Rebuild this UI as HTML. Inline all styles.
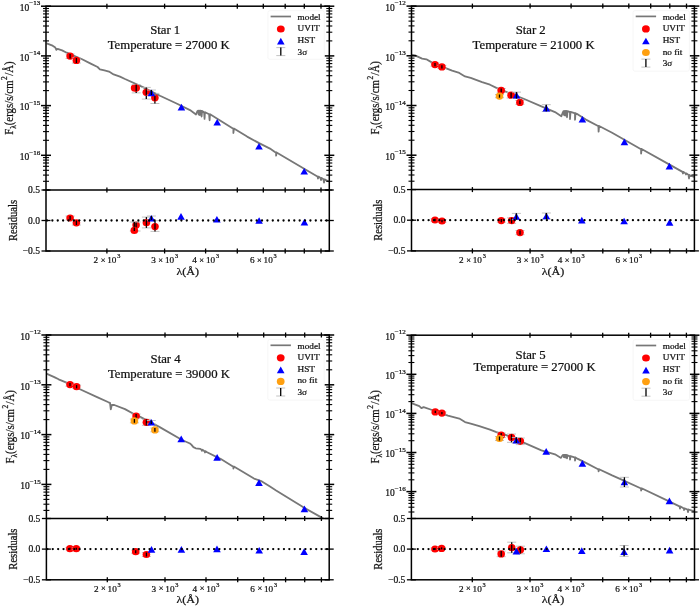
<!DOCTYPE html>
<html><head><meta charset="utf-8"><style>
html,body{margin:0;padding:0;background:#fff;width:700px;height:606px;overflow:hidden}
svg{display:block;will-change:transform;filter:blur(0.3px)}
text{font-family:"Liberation Serif", serif;fill:#111;stroke:#111;stroke-width:0.22px}
</style></head><body>
<svg width="700" height="606" viewBox="0 0 700 606">
<rect width="700" height="606" fill="#fff"/>
<polyline fill="none" stroke="#777" stroke-width="1.8" stroke-linejoin="round" points="46.5,43.5 47.3,43.6 51.9,45.3 55.3,47.6 56.4,49.9 57.6,48.9 62.1,50.4 66.7,52.7 81.6,59.0 90.7,63.6 97.6,67.0 99.9,69.3 104.4,70.4 109.0,71.6 113.6,74.4 120.0,76.6 125.0,79.0 142.9,87.1 160.0,95.7 177.1,103.7 190.0,110.1 196.0,114.5 197.2,111.5 198.1,110.6 198.2,110.6 198.6,114.5 199.1,110.6 199.3,110.7 199.8,115.2 200.3,110.7 201.1,110.9 201.4,110.8 201.6,116.5 202.1,110.9 204.1,112.2 204.6,118.9 204.9,112.3 205.1,112.2 209.1,114.3 209.6,120.3 210.0,114.5 210.1,114.3 212.9,116.0 220.9,121.1 232.9,128.6 233.4,128.6 233.4,133.0 233.9,128.6 247.1,136.6 258.6,142.9 270.0,148.6 275.6,152.5 276.1,152.5 276.1,155.7 276.6,152.5 302.9,168.0 315.7,175.5 317.5,176.6 318.0,178.5 318.5,176.6 320.5,177.9 321.0,180.0 321.5,177.9 323.5,179.3 324.0,182.5 324.5,179.3 326.4,180.4 328.6,181.4"/>
<rect x="46.0" y="6.2" width="283.3" height="244.8" fill="none" stroke="#000" stroke-width="1.5"/>
<line x1="46.0" y1="190.0" x2="329.3" y2="190.0" stroke="#000" stroke-width="1.5"/>
<line x1="106.9" y1="3.7" x2="106.9" y2="8.7" stroke="#000" stroke-width="1.3"/>
<line x1="106.9" y1="187.5" x2="106.9" y2="192.5" stroke="#000" stroke-width="1.3"/>
<line x1="106.9" y1="248.5" x2="106.9" y2="253.5" stroke="#000" stroke-width="1.3"/>
<line x1="164.6" y1="3.7" x2="164.6" y2="8.7" stroke="#000" stroke-width="1.3"/>
<line x1="164.6" y1="187.5" x2="164.6" y2="192.5" stroke="#000" stroke-width="1.3"/>
<line x1="164.6" y1="248.5" x2="164.6" y2="253.5" stroke="#000" stroke-width="1.3"/>
<line x1="205.6" y1="3.7" x2="205.6" y2="8.7" stroke="#000" stroke-width="1.3"/>
<line x1="205.6" y1="187.5" x2="205.6" y2="192.5" stroke="#000" stroke-width="1.3"/>
<line x1="205.6" y1="248.5" x2="205.6" y2="253.5" stroke="#000" stroke-width="1.3"/>
<line x1="237.3" y1="3.7" x2="237.3" y2="8.7" stroke="#000" stroke-width="1.3"/>
<line x1="237.3" y1="187.5" x2="237.3" y2="192.5" stroke="#000" stroke-width="1.3"/>
<line x1="237.3" y1="248.5" x2="237.3" y2="253.5" stroke="#000" stroke-width="1.3"/>
<line x1="263.3" y1="3.7" x2="263.3" y2="8.7" stroke="#000" stroke-width="1.3"/>
<line x1="263.3" y1="187.5" x2="263.3" y2="192.5" stroke="#000" stroke-width="1.3"/>
<line x1="263.3" y1="248.5" x2="263.3" y2="253.5" stroke="#000" stroke-width="1.3"/>
<line x1="285.2" y1="3.7" x2="285.2" y2="8.7" stroke="#000" stroke-width="1.3"/>
<line x1="285.2" y1="187.5" x2="285.2" y2="192.5" stroke="#000" stroke-width="1.3"/>
<line x1="285.2" y1="248.5" x2="285.2" y2="253.5" stroke="#000" stroke-width="1.3"/>
<line x1="304.3" y1="3.7" x2="304.3" y2="8.7" stroke="#000" stroke-width="1.3"/>
<line x1="304.3" y1="187.5" x2="304.3" y2="192.5" stroke="#000" stroke-width="1.3"/>
<line x1="304.3" y1="248.5" x2="304.3" y2="253.5" stroke="#000" stroke-width="1.3"/>
<line x1="321.0" y1="3.7" x2="321.0" y2="8.7" stroke="#000" stroke-width="1.3"/>
<line x1="321.0" y1="187.5" x2="321.0" y2="192.5" stroke="#000" stroke-width="1.3"/>
<line x1="321.0" y1="248.5" x2="321.0" y2="253.5" stroke="#000" stroke-width="1.3"/>
<text x="93.5" y="263.2" font-size="9.2">2</text>
<text x="103.0" y="262.6" font-size="8.4" text-anchor="middle">×</text>
<text x="107.2" y="263.2" font-size="9.2">10</text>
<text x="117.2" y="258.4" font-size="6.3">3</text>
<text x="151.2" y="263.2" font-size="9.2">3</text>
<text x="160.7" y="262.6" font-size="8.4" text-anchor="middle">×</text>
<text x="164.9" y="263.2" font-size="9.2">10</text>
<text x="174.9" y="258.4" font-size="6.3">3</text>
<text x="192.2" y="263.2" font-size="9.2">4</text>
<text x="201.7" y="262.6" font-size="8.4" text-anchor="middle">×</text>
<text x="205.9" y="263.2" font-size="9.2">10</text>
<text x="215.9" y="258.4" font-size="6.3">3</text>
<text x="249.9" y="263.2" font-size="9.2">6</text>
<text x="259.4" y="262.6" font-size="8.4" text-anchor="middle">×</text>
<text x="263.6" y="263.2" font-size="9.2">10</text>
<text x="273.6" y="258.4" font-size="6.3">3</text>
<line x1="41.0" y1="6.2" x2="51.0" y2="6.2" stroke="#000" stroke-width="1.5"/>
<line x1="324.3" y1="6.2" x2="334.3" y2="6.2" stroke="#000" stroke-width="1.5"/>
<text x="29.3" y="10.9" font-size="9.5" text-anchor="end">10</text>
<text transform="translate(40.3,5.4) scale(1.1,1)" font-size="6.4" text-anchor="end">−13</text>
<line x1="43.0" y1="40.9" x2="49.0" y2="40.9" stroke="#000" stroke-width="1.1"/>
<line x1="326.3" y1="40.9" x2="332.3" y2="40.9" stroke="#000" stroke-width="1.1"/>
<line x1="43.0" y1="32.2" x2="49.0" y2="32.2" stroke="#000" stroke-width="1.1"/>
<line x1="326.3" y1="32.2" x2="332.3" y2="32.2" stroke="#000" stroke-width="1.1"/>
<line x1="43.0" y1="26.0" x2="49.0" y2="26.0" stroke="#000" stroke-width="1.1"/>
<line x1="326.3" y1="26.0" x2="332.3" y2="26.0" stroke="#000" stroke-width="1.1"/>
<line x1="43.0" y1="21.2" x2="49.0" y2="21.2" stroke="#000" stroke-width="1.1"/>
<line x1="326.3" y1="21.2" x2="332.3" y2="21.2" stroke="#000" stroke-width="1.1"/>
<line x1="43.0" y1="17.2" x2="49.0" y2="17.2" stroke="#000" stroke-width="1.1"/>
<line x1="326.3" y1="17.2" x2="332.3" y2="17.2" stroke="#000" stroke-width="1.1"/>
<line x1="43.0" y1="13.9" x2="49.0" y2="13.9" stroke="#000" stroke-width="1.1"/>
<line x1="326.3" y1="13.9" x2="332.3" y2="13.9" stroke="#000" stroke-width="1.1"/>
<line x1="43.0" y1="11.0" x2="49.0" y2="11.0" stroke="#000" stroke-width="1.1"/>
<line x1="326.3" y1="11.0" x2="332.3" y2="11.0" stroke="#000" stroke-width="1.1"/>
<line x1="43.0" y1="8.5" x2="49.0" y2="8.5" stroke="#000" stroke-width="1.1"/>
<line x1="326.3" y1="8.5" x2="332.3" y2="8.5" stroke="#000" stroke-width="1.1"/>
<line x1="41.0" y1="55.9" x2="51.0" y2="55.9" stroke="#000" stroke-width="1.5"/>
<line x1="324.3" y1="55.9" x2="334.3" y2="55.9" stroke="#000" stroke-width="1.5"/>
<text x="29.3" y="60.6" font-size="9.5" text-anchor="end">10</text>
<text transform="translate(40.3,55.1) scale(1.1,1)" font-size="6.4" text-anchor="end">−14</text>
<line x1="43.0" y1="90.6" x2="49.0" y2="90.6" stroke="#000" stroke-width="1.1"/>
<line x1="326.3" y1="90.6" x2="332.3" y2="90.6" stroke="#000" stroke-width="1.1"/>
<line x1="43.0" y1="81.9" x2="49.0" y2="81.9" stroke="#000" stroke-width="1.1"/>
<line x1="326.3" y1="81.9" x2="332.3" y2="81.9" stroke="#000" stroke-width="1.1"/>
<line x1="43.0" y1="75.7" x2="49.0" y2="75.7" stroke="#000" stroke-width="1.1"/>
<line x1="326.3" y1="75.7" x2="332.3" y2="75.7" stroke="#000" stroke-width="1.1"/>
<line x1="43.0" y1="70.9" x2="49.0" y2="70.9" stroke="#000" stroke-width="1.1"/>
<line x1="326.3" y1="70.9" x2="332.3" y2="70.9" stroke="#000" stroke-width="1.1"/>
<line x1="43.0" y1="66.9" x2="49.0" y2="66.9" stroke="#000" stroke-width="1.1"/>
<line x1="326.3" y1="66.9" x2="332.3" y2="66.9" stroke="#000" stroke-width="1.1"/>
<line x1="43.0" y1="63.6" x2="49.0" y2="63.6" stroke="#000" stroke-width="1.1"/>
<line x1="326.3" y1="63.6" x2="332.3" y2="63.6" stroke="#000" stroke-width="1.1"/>
<line x1="43.0" y1="60.7" x2="49.0" y2="60.7" stroke="#000" stroke-width="1.1"/>
<line x1="326.3" y1="60.7" x2="332.3" y2="60.7" stroke="#000" stroke-width="1.1"/>
<line x1="43.0" y1="58.2" x2="49.0" y2="58.2" stroke="#000" stroke-width="1.1"/>
<line x1="326.3" y1="58.2" x2="332.3" y2="58.2" stroke="#000" stroke-width="1.1"/>
<line x1="41.0" y1="105.6" x2="51.0" y2="105.6" stroke="#000" stroke-width="1.5"/>
<line x1="324.3" y1="105.6" x2="334.3" y2="105.6" stroke="#000" stroke-width="1.5"/>
<text x="29.3" y="110.3" font-size="9.5" text-anchor="end">10</text>
<text transform="translate(40.3,104.8) scale(1.1,1)" font-size="6.4" text-anchor="end">−15</text>
<line x1="43.0" y1="140.3" x2="49.0" y2="140.3" stroke="#000" stroke-width="1.1"/>
<line x1="326.3" y1="140.3" x2="332.3" y2="140.3" stroke="#000" stroke-width="1.1"/>
<line x1="43.0" y1="131.6" x2="49.0" y2="131.6" stroke="#000" stroke-width="1.1"/>
<line x1="326.3" y1="131.6" x2="332.3" y2="131.6" stroke="#000" stroke-width="1.1"/>
<line x1="43.0" y1="125.4" x2="49.0" y2="125.4" stroke="#000" stroke-width="1.1"/>
<line x1="326.3" y1="125.4" x2="332.3" y2="125.4" stroke="#000" stroke-width="1.1"/>
<line x1="43.0" y1="120.6" x2="49.0" y2="120.6" stroke="#000" stroke-width="1.1"/>
<line x1="326.3" y1="120.6" x2="332.3" y2="120.6" stroke="#000" stroke-width="1.1"/>
<line x1="43.0" y1="116.6" x2="49.0" y2="116.6" stroke="#000" stroke-width="1.1"/>
<line x1="326.3" y1="116.6" x2="332.3" y2="116.6" stroke="#000" stroke-width="1.1"/>
<line x1="43.0" y1="113.3" x2="49.0" y2="113.3" stroke="#000" stroke-width="1.1"/>
<line x1="326.3" y1="113.3" x2="332.3" y2="113.3" stroke="#000" stroke-width="1.1"/>
<line x1="43.0" y1="110.4" x2="49.0" y2="110.4" stroke="#000" stroke-width="1.1"/>
<line x1="326.3" y1="110.4" x2="332.3" y2="110.4" stroke="#000" stroke-width="1.1"/>
<line x1="43.0" y1="107.9" x2="49.0" y2="107.9" stroke="#000" stroke-width="1.1"/>
<line x1="326.3" y1="107.9" x2="332.3" y2="107.9" stroke="#000" stroke-width="1.1"/>
<line x1="41.0" y1="155.3" x2="51.0" y2="155.3" stroke="#000" stroke-width="1.5"/>
<line x1="324.3" y1="155.3" x2="334.3" y2="155.3" stroke="#000" stroke-width="1.5"/>
<text x="29.3" y="160.0" font-size="9.5" text-anchor="end">10</text>
<text transform="translate(40.3,154.5) scale(1.1,1)" font-size="6.4" text-anchor="end">−16</text>
<line x1="43.0" y1="190.0" x2="49.0" y2="190.0" stroke="#000" stroke-width="1.1"/>
<line x1="326.3" y1="190.0" x2="332.3" y2="190.0" stroke="#000" stroke-width="1.1"/>
<line x1="43.0" y1="181.3" x2="49.0" y2="181.3" stroke="#000" stroke-width="1.1"/>
<line x1="326.3" y1="181.3" x2="332.3" y2="181.3" stroke="#000" stroke-width="1.1"/>
<line x1="43.0" y1="175.1" x2="49.0" y2="175.1" stroke="#000" stroke-width="1.1"/>
<line x1="326.3" y1="175.1" x2="332.3" y2="175.1" stroke="#000" stroke-width="1.1"/>
<line x1="43.0" y1="170.3" x2="49.0" y2="170.3" stroke="#000" stroke-width="1.1"/>
<line x1="326.3" y1="170.3" x2="332.3" y2="170.3" stroke="#000" stroke-width="1.1"/>
<line x1="43.0" y1="166.3" x2="49.0" y2="166.3" stroke="#000" stroke-width="1.1"/>
<line x1="326.3" y1="166.3" x2="332.3" y2="166.3" stroke="#000" stroke-width="1.1"/>
<line x1="43.0" y1="163.0" x2="49.0" y2="163.0" stroke="#000" stroke-width="1.1"/>
<line x1="326.3" y1="163.0" x2="332.3" y2="163.0" stroke="#000" stroke-width="1.1"/>
<line x1="43.0" y1="160.1" x2="49.0" y2="160.1" stroke="#000" stroke-width="1.1"/>
<line x1="326.3" y1="160.1" x2="332.3" y2="160.1" stroke="#000" stroke-width="1.1"/>
<line x1="43.0" y1="157.6" x2="49.0" y2="157.6" stroke="#000" stroke-width="1.1"/>
<line x1="326.3" y1="157.6" x2="332.3" y2="157.6" stroke="#000" stroke-width="1.1"/>
<line x1="41.5" y1="190.0" x2="50.5" y2="190.0" stroke="#000" stroke-width="1.3"/>
<line x1="324.8" y1="190.0" x2="333.8" y2="190.0" stroke="#000" stroke-width="1.3"/>
<text transform="translate(40.0,193.1) scale(1.03,1)" font-size="9.3" text-anchor="end">0.5</text>
<line x1="41.5" y1="220.5" x2="50.5" y2="220.5" stroke="#000" stroke-width="1.3"/>
<line x1="324.8" y1="220.5" x2="333.8" y2="220.5" stroke="#000" stroke-width="1.3"/>
<text transform="translate(40.0,223.6) scale(1.03,1)" font-size="9.3" text-anchor="end">0.0</text>
<line x1="41.5" y1="251.0" x2="50.5" y2="251.0" stroke="#000" stroke-width="1.3"/>
<line x1="324.8" y1="251.0" x2="333.8" y2="251.0" stroke="#000" stroke-width="1.3"/>
<text transform="translate(40.0,254.1) scale(1.03,1)" font-size="9.3" text-anchor="end">−0.5</text>
<text transform="translate(13.4,98.1) rotate(-90) scale(1,1.1)" font-size="10.8" text-anchor="middle">F<tspan font-size="7.4" dy="2.5">λ</tspan><tspan dy="-2.5">(ergs/s/cm</tspan><tspan font-size="7.4" dy="-5.5" dx="0.6">2</tspan><tspan dy="5.5" dx="0.4">/Å)</tspan></text>
<text transform="translate(16.9,220.5) rotate(-90) scale(1,1.1)" font-size="10.6" text-anchor="middle">Residuals</text>
<text transform="translate(187.7,274.6) scale(1.1,1)" font-size="11" text-anchor="middle">λ(Å)</text>
<text transform="translate(165.2,33.8) scale(1.11,1)" font-size="11.5" text-anchor="middle">Star 1</text>
<text transform="translate(168.7,49.0) scale(1.11,1)" font-size="11.5" text-anchor="middle">Temperature = 27000 K</text>
<rect x="267.9" y="10.7" width="56.4" height="48.6" rx="2" fill="#fff" stroke="#f4f4f4" stroke-width="0.8"/>
<line x1="270.6" y1="16.5" x2="291.0" y2="16.5" stroke="#777" stroke-width="1.7"/>
<text transform="translate(297.6,19.7) scale(1.1,1)" font-size="8.4">model</text>
<ellipse cx="280.8" cy="29.0" rx="3.9" ry="3.6" fill="#f00"/>
<text transform="translate(297.6,31.3) scale(1.1,1)" font-size="8.4">UVIT</text>
<polygon points="280.8,37.8 277.0,44.4 284.6,44.4" fill="#00f"/>
<text transform="translate(297.6,43.0) scale(1.1,1)" font-size="8.4">HST</text>
<line x1="276.3" y1="47.6" x2="285.3" y2="47.6" stroke="#bbb" stroke-width="0.9"/><line x1="276.3" y1="55.6" x2="285.3" y2="55.6" stroke="#bbb" stroke-width="0.9"/><line x1="280.8" y1="47.6" x2="280.8" y2="55.6" stroke="#000" stroke-width="1.3"/>
<text transform="translate(297.6,54.6) scale(1.1,1)" font-size="8.4">3σ</text>
<line x1="65.6" y1="54.0" x2="74.6" y2="54.0" stroke="#bbb" stroke-width="0.9"/><line x1="65.6" y1="58.5" x2="74.6" y2="58.5" stroke="#bbb" stroke-width="0.9"/><line x1="70.1" y1="54.0" x2="70.1" y2="58.5" stroke="#000" stroke-width="1.3"/>
<ellipse cx="70.1" cy="56.1" rx="3.8" ry="3.6" fill="#f00"/>
<line x1="70.1" y1="54.0" x2="70.1" y2="58.5" stroke="#000" stroke-width="1.3"/>
<line x1="71.9" y1="58.0" x2="80.9" y2="58.0" stroke="#bbb" stroke-width="0.9"/><line x1="71.9" y1="63.0" x2="80.9" y2="63.0" stroke="#bbb" stroke-width="0.9"/><line x1="76.4" y1="58.0" x2="76.4" y2="63.0" stroke="#000" stroke-width="1.3"/>
<ellipse cx="76.4" cy="60.4" rx="3.8" ry="3.6" fill="#f00"/>
<line x1="76.4" y1="58.0" x2="76.4" y2="63.0" stroke="#000" stroke-width="1.3"/>
<ellipse cx="134.6" cy="87.9" rx="3.8" ry="3.6" fill="#f00"/>
<line x1="131.7" y1="84.6" x2="140.7" y2="84.6" stroke="#bbb" stroke-width="0.9"/><line x1="131.7" y1="92.9" x2="140.7" y2="92.9" stroke="#bbb" stroke-width="0.9"/><line x1="136.2" y1="84.6" x2="136.2" y2="92.9" stroke="#000" stroke-width="1.3"/>
<ellipse cx="136.2" cy="88.1" rx="3.8" ry="3.6" fill="#f00"/>
<line x1="136.2" y1="85.1" x2="136.2" y2="91.1" stroke="#000" stroke-width="1.3"/>
<line x1="141.8" y1="87.4" x2="150.8" y2="87.4" stroke="#bbb" stroke-width="0.9"/><line x1="141.8" y1="99.1" x2="150.8" y2="99.1" stroke="#bbb" stroke-width="0.9"/><line x1="146.3" y1="87.4" x2="146.3" y2="99.1" stroke="#000" stroke-width="1.3"/>
<ellipse cx="146.3" cy="92.3" rx="3.8" ry="3.6" fill="#f00"/>
<line x1="146.3" y1="89.3" x2="146.3" y2="95.3" stroke="#000" stroke-width="1.3"/>
<line x1="150.4" y1="93.4" x2="159.4" y2="93.4" stroke="#bbb" stroke-width="0.9"/><line x1="150.4" y1="103.5" x2="159.4" y2="103.5" stroke="#bbb" stroke-width="0.9"/><line x1="154.9" y1="93.4" x2="154.9" y2="103.5" stroke="#000" stroke-width="1.3"/>
<ellipse cx="154.9" cy="97.8" rx="3.8" ry="3.6" fill="#f00"/>
<line x1="154.9" y1="94.8" x2="154.9" y2="100.8" stroke="#000" stroke-width="1.3"/>
<line x1="146.9" y1="90.0" x2="155.9" y2="90.0" stroke="#bbb" stroke-width="0.9"/><line x1="146.9" y1="95.0" x2="155.9" y2="95.0" stroke="#bbb" stroke-width="0.9"/><line x1="151.4" y1="90.0" x2="151.4" y2="95.0" stroke="#000" stroke-width="1.3"/>
<polygon points="151.4,89.6 147.6,96.2 155.2,96.2" fill="#00f"/>
<line x1="151.4" y1="90.0" x2="151.4" y2="95.0" stroke="#000" stroke-width="1.3"/>
<polygon points="181.4,103.8 177.6,110.4 185.2,110.4" fill="#00f"/>
<polygon points="217.2,119.0 213.4,125.6 221.0,125.6" fill="#00f"/>
<polygon points="259.0,143.0 255.2,149.6 262.8,149.6" fill="#00f"/>
<polygon points="304.2,168.0 300.4,174.6 308.0,174.6" fill="#00f"/>
<line x1="65.6" y1="216.0" x2="74.6" y2="216.0" stroke="#bbb" stroke-width="0.9"/><line x1="65.6" y1="220.0" x2="74.6" y2="220.0" stroke="#bbb" stroke-width="0.9"/><line x1="70.1" y1="216.0" x2="70.1" y2="220.0" stroke="#000" stroke-width="1.3"/>
<ellipse cx="70.1" cy="218.0" rx="3.8" ry="3.6" fill="#f00"/>
<line x1="70.1" y1="216.0" x2="70.1" y2="220.0" stroke="#000" stroke-width="1.3"/>
<line x1="71.9" y1="220.5" x2="80.9" y2="220.5" stroke="#bbb" stroke-width="0.9"/><line x1="71.9" y1="225.0" x2="80.9" y2="225.0" stroke="#bbb" stroke-width="0.9"/><line x1="76.4" y1="220.5" x2="76.4" y2="225.0" stroke="#000" stroke-width="1.3"/>
<ellipse cx="76.4" cy="222.8" rx="3.8" ry="3.6" fill="#f00"/>
<line x1="76.4" y1="220.5" x2="76.4" y2="225.0" stroke="#000" stroke-width="1.3"/>
<line x1="131.6" y1="222.0" x2="140.6" y2="222.0" stroke="#bbb" stroke-width="0.9"/><line x1="131.6" y1="231.0" x2="140.6" y2="231.0" stroke="#bbb" stroke-width="0.9"/><line x1="136.1" y1="222.0" x2="136.1" y2="231.0" stroke="#000" stroke-width="1.3"/>
<ellipse cx="136.1" cy="225.1" rx="3.8" ry="3.6" fill="#f00"/>
<line x1="136.1" y1="222.1" x2="136.1" y2="228.1" stroke="#000" stroke-width="1.3"/>
<line x1="129.8" y1="222.0" x2="138.8" y2="222.0" stroke="#bbb" stroke-width="0.9"/><line x1="129.8" y1="231.0" x2="138.8" y2="231.0" stroke="#bbb" stroke-width="0.9"/><line x1="134.3" y1="222.0" x2="134.3" y2="231.0" stroke="#000" stroke-width="1.3"/>
<ellipse cx="134.3" cy="230.4" rx="3.8" ry="3.6" fill="#f00"/>
<line x1="134.3" y1="227.4" x2="134.3" y2="231.0" stroke="#000" stroke-width="1.3"/>
<line x1="141.9" y1="217.1" x2="150.9" y2="217.1" stroke="#bbb" stroke-width="0.9"/><line x1="141.9" y1="227.9" x2="150.9" y2="227.9" stroke="#bbb" stroke-width="0.9"/><line x1="146.4" y1="217.1" x2="146.4" y2="227.9" stroke="#000" stroke-width="1.3"/>
<ellipse cx="146.4" cy="222.7" rx="3.8" ry="3.6" fill="#f00"/>
<line x1="146.4" y1="219.7" x2="146.4" y2="225.7" stroke="#000" stroke-width="1.3"/>
<line x1="150.5" y1="220.7" x2="159.5" y2="220.7" stroke="#bbb" stroke-width="0.9"/><line x1="150.5" y1="231.4" x2="159.5" y2="231.4" stroke="#bbb" stroke-width="0.9"/><line x1="155.0" y1="220.7" x2="155.0" y2="231.4" stroke="#000" stroke-width="1.3"/>
<ellipse cx="155.0" cy="226.6" rx="3.8" ry="3.6" fill="#f00"/>
<line x1="155.0" y1="223.6" x2="155.0" y2="229.6" stroke="#000" stroke-width="1.3"/>
<line x1="146.9" y1="216.0" x2="155.9" y2="216.0" stroke="#bbb" stroke-width="0.9"/><line x1="146.9" y1="220.0" x2="155.9" y2="220.0" stroke="#bbb" stroke-width="0.9"/><line x1="151.4" y1="216.0" x2="151.4" y2="220.0" stroke="#000" stroke-width="1.3"/>
<polygon points="151.4,214.9 147.6,221.5 155.2,221.5" fill="#00f"/>
<line x1="151.4" y1="216.0" x2="151.4" y2="220.0" stroke="#000" stroke-width="1.3"/>
<polygon points="181.0,213.1 177.2,219.7 184.8,219.7" fill="#00f"/>
<polygon points="216.9,215.9 213.1,222.5 220.7,222.5" fill="#00f"/>
<polygon points="259.1,217.2 255.3,223.8 262.9,223.8" fill="#00f"/>
<polygon points="304.4,218.8 300.6,225.4 308.2,225.4" fill="#00f"/>
<line x1="47.0" y1="220.5" x2="329.3" y2="220.5" stroke="#000" stroke-width="2.3" stroke-linecap="round" stroke-dasharray="0 5.376"/>
<polyline fill="none" stroke="#777" stroke-width="1.8" stroke-linejoin="round" points="411.5,54.7 415.0,55.4 422.1,58.6 426.4,59.3 432.1,62.6 445.0,67.9 452.1,70.7 459.3,72.9 465.0,76.4 470.7,77.9 482.1,82.1 490.0,84.7 496.4,87.9 505.0,91.4 524.3,99.0 541.4,106.4 555.0,112.1 561.3,116.3 562.6,113.0 563.5,111.1 563.5,111.2 564.0,115.0 564.5,111.1 564.7,111.0 565.2,115.6 565.7,111.0 566.4,110.9 566.5,111.1 567.0,117.3 567.5,111.1 569.5,111.8 570.0,111.8 570.0,119.0 570.5,111.8 574.5,113.2 575.0,113.2 575.0,119.8 575.5,113.2 577.9,114.4 585.9,119.6 598.1,126.0 598.4,125.9 598.6,131.6 599.1,126.0 612.1,132.7 620.0,137.3 640.6,149.0 641.1,149.0 641.1,153.6 641.6,149.0 669.1,164.4 679.4,170.1 682.5,171.9 683.0,173.5 683.5,171.9 685.5,173.4 686.0,174.5 686.5,173.4 688.5,174.9 689.0,178.5 689.5,174.9 689.7,175.3 694.3,177.0"/>
<rect x="411.5" y="6.1" width="282.9" height="244.8" fill="none" stroke="#000" stroke-width="1.5"/>
<line x1="411.5" y1="189.6" x2="694.4" y2="189.6" stroke="#000" stroke-width="1.5"/>
<line x1="472.4" y1="3.6" x2="472.4" y2="8.6" stroke="#000" stroke-width="1.3"/>
<line x1="472.4" y1="187.1" x2="472.4" y2="192.1" stroke="#000" stroke-width="1.3"/>
<line x1="472.4" y1="248.4" x2="472.4" y2="253.4" stroke="#000" stroke-width="1.3"/>
<line x1="530.1" y1="3.6" x2="530.1" y2="8.6" stroke="#000" stroke-width="1.3"/>
<line x1="530.1" y1="187.1" x2="530.1" y2="192.1" stroke="#000" stroke-width="1.3"/>
<line x1="530.1" y1="248.4" x2="530.1" y2="253.4" stroke="#000" stroke-width="1.3"/>
<line x1="571.1" y1="3.6" x2="571.1" y2="8.6" stroke="#000" stroke-width="1.3"/>
<line x1="571.1" y1="187.1" x2="571.1" y2="192.1" stroke="#000" stroke-width="1.3"/>
<line x1="571.1" y1="248.4" x2="571.1" y2="253.4" stroke="#000" stroke-width="1.3"/>
<line x1="602.8" y1="3.6" x2="602.8" y2="8.6" stroke="#000" stroke-width="1.3"/>
<line x1="602.8" y1="187.1" x2="602.8" y2="192.1" stroke="#000" stroke-width="1.3"/>
<line x1="602.8" y1="248.4" x2="602.8" y2="253.4" stroke="#000" stroke-width="1.3"/>
<line x1="628.8" y1="3.6" x2="628.8" y2="8.6" stroke="#000" stroke-width="1.3"/>
<line x1="628.8" y1="187.1" x2="628.8" y2="192.1" stroke="#000" stroke-width="1.3"/>
<line x1="628.8" y1="248.4" x2="628.8" y2="253.4" stroke="#000" stroke-width="1.3"/>
<line x1="650.7" y1="3.6" x2="650.7" y2="8.6" stroke="#000" stroke-width="1.3"/>
<line x1="650.7" y1="187.1" x2="650.7" y2="192.1" stroke="#000" stroke-width="1.3"/>
<line x1="650.7" y1="248.4" x2="650.7" y2="253.4" stroke="#000" stroke-width="1.3"/>
<line x1="669.8" y1="3.6" x2="669.8" y2="8.6" stroke="#000" stroke-width="1.3"/>
<line x1="669.8" y1="187.1" x2="669.8" y2="192.1" stroke="#000" stroke-width="1.3"/>
<line x1="669.8" y1="248.4" x2="669.8" y2="253.4" stroke="#000" stroke-width="1.3"/>
<line x1="686.5" y1="3.6" x2="686.5" y2="8.6" stroke="#000" stroke-width="1.3"/>
<line x1="686.5" y1="187.1" x2="686.5" y2="192.1" stroke="#000" stroke-width="1.3"/>
<line x1="686.5" y1="248.4" x2="686.5" y2="253.4" stroke="#000" stroke-width="1.3"/>
<text x="459.0" y="263.1" font-size="9.2">2</text>
<text x="468.5" y="262.5" font-size="8.4" text-anchor="middle">×</text>
<text x="472.7" y="263.1" font-size="9.2">10</text>
<text x="482.7" y="258.3" font-size="6.3">3</text>
<text x="516.7" y="263.1" font-size="9.2">3</text>
<text x="526.2" y="262.5" font-size="8.4" text-anchor="middle">×</text>
<text x="530.4" y="263.1" font-size="9.2">10</text>
<text x="540.4" y="258.3" font-size="6.3">3</text>
<text x="557.7" y="263.1" font-size="9.2">4</text>
<text x="567.2" y="262.5" font-size="8.4" text-anchor="middle">×</text>
<text x="571.4" y="263.1" font-size="9.2">10</text>
<text x="581.4" y="258.3" font-size="6.3">3</text>
<text x="615.4" y="263.1" font-size="9.2">6</text>
<text x="624.9" y="262.5" font-size="8.4" text-anchor="middle">×</text>
<text x="629.1" y="263.1" font-size="9.2">10</text>
<text x="639.1" y="258.3" font-size="6.3">3</text>
<line x1="406.5" y1="6.1" x2="416.5" y2="6.1" stroke="#000" stroke-width="1.5"/>
<line x1="689.4" y1="6.1" x2="699.4" y2="6.1" stroke="#000" stroke-width="1.5"/>
<text x="394.8" y="10.8" font-size="9.5" text-anchor="end">10</text>
<text transform="translate(405.8,5.3) scale(1.1,1)" font-size="6.4" text-anchor="end">−12</text>
<line x1="408.5" y1="40.8" x2="414.5" y2="40.8" stroke="#000" stroke-width="1.1"/>
<line x1="691.4" y1="40.8" x2="697.4" y2="40.8" stroke="#000" stroke-width="1.1"/>
<line x1="408.5" y1="32.1" x2="414.5" y2="32.1" stroke="#000" stroke-width="1.1"/>
<line x1="691.4" y1="32.1" x2="697.4" y2="32.1" stroke="#000" stroke-width="1.1"/>
<line x1="408.5" y1="25.9" x2="414.5" y2="25.9" stroke="#000" stroke-width="1.1"/>
<line x1="691.4" y1="25.9" x2="697.4" y2="25.9" stroke="#000" stroke-width="1.1"/>
<line x1="408.5" y1="21.1" x2="414.5" y2="21.1" stroke="#000" stroke-width="1.1"/>
<line x1="691.4" y1="21.1" x2="697.4" y2="21.1" stroke="#000" stroke-width="1.1"/>
<line x1="408.5" y1="17.1" x2="414.5" y2="17.1" stroke="#000" stroke-width="1.1"/>
<line x1="691.4" y1="17.1" x2="697.4" y2="17.1" stroke="#000" stroke-width="1.1"/>
<line x1="408.5" y1="13.8" x2="414.5" y2="13.8" stroke="#000" stroke-width="1.1"/>
<line x1="691.4" y1="13.8" x2="697.4" y2="13.8" stroke="#000" stroke-width="1.1"/>
<line x1="408.5" y1="10.9" x2="414.5" y2="10.9" stroke="#000" stroke-width="1.1"/>
<line x1="691.4" y1="10.9" x2="697.4" y2="10.9" stroke="#000" stroke-width="1.1"/>
<line x1="408.5" y1="8.4" x2="414.5" y2="8.4" stroke="#000" stroke-width="1.1"/>
<line x1="691.4" y1="8.4" x2="697.4" y2="8.4" stroke="#000" stroke-width="1.1"/>
<line x1="406.5" y1="55.8" x2="416.5" y2="55.8" stroke="#000" stroke-width="1.5"/>
<line x1="689.4" y1="55.8" x2="699.4" y2="55.8" stroke="#000" stroke-width="1.5"/>
<text x="394.8" y="60.5" font-size="9.5" text-anchor="end">10</text>
<text transform="translate(405.8,55.0) scale(1.1,1)" font-size="6.4" text-anchor="end">−13</text>
<line x1="408.5" y1="90.5" x2="414.5" y2="90.5" stroke="#000" stroke-width="1.1"/>
<line x1="691.4" y1="90.5" x2="697.4" y2="90.5" stroke="#000" stroke-width="1.1"/>
<line x1="408.5" y1="81.8" x2="414.5" y2="81.8" stroke="#000" stroke-width="1.1"/>
<line x1="691.4" y1="81.8" x2="697.4" y2="81.8" stroke="#000" stroke-width="1.1"/>
<line x1="408.5" y1="75.6" x2="414.5" y2="75.6" stroke="#000" stroke-width="1.1"/>
<line x1="691.4" y1="75.6" x2="697.4" y2="75.6" stroke="#000" stroke-width="1.1"/>
<line x1="408.5" y1="70.8" x2="414.5" y2="70.8" stroke="#000" stroke-width="1.1"/>
<line x1="691.4" y1="70.8" x2="697.4" y2="70.8" stroke="#000" stroke-width="1.1"/>
<line x1="408.5" y1="66.8" x2="414.5" y2="66.8" stroke="#000" stroke-width="1.1"/>
<line x1="691.4" y1="66.8" x2="697.4" y2="66.8" stroke="#000" stroke-width="1.1"/>
<line x1="408.5" y1="63.5" x2="414.5" y2="63.5" stroke="#000" stroke-width="1.1"/>
<line x1="691.4" y1="63.5" x2="697.4" y2="63.5" stroke="#000" stroke-width="1.1"/>
<line x1="408.5" y1="60.6" x2="414.5" y2="60.6" stroke="#000" stroke-width="1.1"/>
<line x1="691.4" y1="60.6" x2="697.4" y2="60.6" stroke="#000" stroke-width="1.1"/>
<line x1="408.5" y1="58.1" x2="414.5" y2="58.1" stroke="#000" stroke-width="1.1"/>
<line x1="691.4" y1="58.1" x2="697.4" y2="58.1" stroke="#000" stroke-width="1.1"/>
<line x1="406.5" y1="105.5" x2="416.5" y2="105.5" stroke="#000" stroke-width="1.5"/>
<line x1="689.4" y1="105.5" x2="699.4" y2="105.5" stroke="#000" stroke-width="1.5"/>
<text x="394.8" y="110.2" font-size="9.5" text-anchor="end">10</text>
<text transform="translate(405.8,104.7) scale(1.1,1)" font-size="6.4" text-anchor="end">−14</text>
<line x1="408.5" y1="140.2" x2="414.5" y2="140.2" stroke="#000" stroke-width="1.1"/>
<line x1="691.4" y1="140.2" x2="697.4" y2="140.2" stroke="#000" stroke-width="1.1"/>
<line x1="408.5" y1="131.5" x2="414.5" y2="131.5" stroke="#000" stroke-width="1.1"/>
<line x1="691.4" y1="131.5" x2="697.4" y2="131.5" stroke="#000" stroke-width="1.1"/>
<line x1="408.5" y1="125.3" x2="414.5" y2="125.3" stroke="#000" stroke-width="1.1"/>
<line x1="691.4" y1="125.3" x2="697.4" y2="125.3" stroke="#000" stroke-width="1.1"/>
<line x1="408.5" y1="120.5" x2="414.5" y2="120.5" stroke="#000" stroke-width="1.1"/>
<line x1="691.4" y1="120.5" x2="697.4" y2="120.5" stroke="#000" stroke-width="1.1"/>
<line x1="408.5" y1="116.5" x2="414.5" y2="116.5" stroke="#000" stroke-width="1.1"/>
<line x1="691.4" y1="116.5" x2="697.4" y2="116.5" stroke="#000" stroke-width="1.1"/>
<line x1="408.5" y1="113.2" x2="414.5" y2="113.2" stroke="#000" stroke-width="1.1"/>
<line x1="691.4" y1="113.2" x2="697.4" y2="113.2" stroke="#000" stroke-width="1.1"/>
<line x1="408.5" y1="110.3" x2="414.5" y2="110.3" stroke="#000" stroke-width="1.1"/>
<line x1="691.4" y1="110.3" x2="697.4" y2="110.3" stroke="#000" stroke-width="1.1"/>
<line x1="408.5" y1="107.8" x2="414.5" y2="107.8" stroke="#000" stroke-width="1.1"/>
<line x1="691.4" y1="107.8" x2="697.4" y2="107.8" stroke="#000" stroke-width="1.1"/>
<line x1="406.5" y1="155.2" x2="416.5" y2="155.2" stroke="#000" stroke-width="1.5"/>
<line x1="689.4" y1="155.2" x2="699.4" y2="155.2" stroke="#000" stroke-width="1.5"/>
<text x="394.8" y="159.9" font-size="9.5" text-anchor="end">10</text>
<text transform="translate(405.8,154.4) scale(1.1,1)" font-size="6.4" text-anchor="end">−15</text>
<line x1="408.5" y1="181.2" x2="414.5" y2="181.2" stroke="#000" stroke-width="1.1"/>
<line x1="691.4" y1="181.2" x2="697.4" y2="181.2" stroke="#000" stroke-width="1.1"/>
<line x1="408.5" y1="175.0" x2="414.5" y2="175.0" stroke="#000" stroke-width="1.1"/>
<line x1="691.4" y1="175.0" x2="697.4" y2="175.0" stroke="#000" stroke-width="1.1"/>
<line x1="408.5" y1="170.2" x2="414.5" y2="170.2" stroke="#000" stroke-width="1.1"/>
<line x1="691.4" y1="170.2" x2="697.4" y2="170.2" stroke="#000" stroke-width="1.1"/>
<line x1="408.5" y1="166.2" x2="414.5" y2="166.2" stroke="#000" stroke-width="1.1"/>
<line x1="691.4" y1="166.2" x2="697.4" y2="166.2" stroke="#000" stroke-width="1.1"/>
<line x1="408.5" y1="162.9" x2="414.5" y2="162.9" stroke="#000" stroke-width="1.1"/>
<line x1="691.4" y1="162.9" x2="697.4" y2="162.9" stroke="#000" stroke-width="1.1"/>
<line x1="408.5" y1="160.0" x2="414.5" y2="160.0" stroke="#000" stroke-width="1.1"/>
<line x1="691.4" y1="160.0" x2="697.4" y2="160.0" stroke="#000" stroke-width="1.1"/>
<line x1="408.5" y1="157.5" x2="414.5" y2="157.5" stroke="#000" stroke-width="1.1"/>
<line x1="691.4" y1="157.5" x2="697.4" y2="157.5" stroke="#000" stroke-width="1.1"/>
<line x1="407.0" y1="189.6" x2="416.0" y2="189.6" stroke="#000" stroke-width="1.3"/>
<line x1="689.9" y1="189.6" x2="698.9" y2="189.6" stroke="#000" stroke-width="1.3"/>
<text transform="translate(405.5,192.7) scale(1.03,1)" font-size="9.3" text-anchor="end">0.5</text>
<line x1="407.0" y1="220.2" x2="416.0" y2="220.2" stroke="#000" stroke-width="1.3"/>
<line x1="689.9" y1="220.2" x2="698.9" y2="220.2" stroke="#000" stroke-width="1.3"/>
<text transform="translate(405.5,223.3) scale(1.03,1)" font-size="9.3" text-anchor="end">0.0</text>
<line x1="407.0" y1="250.9" x2="416.0" y2="250.9" stroke="#000" stroke-width="1.3"/>
<line x1="689.9" y1="250.9" x2="698.9" y2="250.9" stroke="#000" stroke-width="1.3"/>
<text transform="translate(405.5,254.0) scale(1.03,1)" font-size="9.3" text-anchor="end">−0.5</text>
<text transform="translate(378.9,97.8) rotate(-90) scale(1,1.1)" font-size="10.8" text-anchor="middle">F<tspan font-size="7.4" dy="2.5">λ</tspan><tspan dy="-2.5">(ergs/s/cm</tspan><tspan font-size="7.4" dy="-5.5" dx="0.6">2</tspan><tspan dy="5.5" dx="0.4">/Å)</tspan></text>
<text transform="translate(382.4,220.2) rotate(-90) scale(1,1.1)" font-size="10.6" text-anchor="middle">Residuals</text>
<text transform="translate(553.0,274.5) scale(1.1,1)" font-size="11" text-anchor="middle">λ(Å)</text>
<text transform="translate(530.7,33.7) scale(1.11,1)" font-size="11.5" text-anchor="middle">Star 2</text>
<text transform="translate(533.6,48.9) scale(1.11,1)" font-size="11.5" text-anchor="middle">Temperature = 21000 K</text>
<rect x="633.0" y="10.6" width="56.4" height="60.6" rx="2" fill="#fff" stroke="#f4f4f4" stroke-width="0.8"/>
<line x1="635.7" y1="16.4" x2="656.1" y2="16.4" stroke="#777" stroke-width="1.7"/>
<text transform="translate(662.7,19.6) scale(1.1,1)" font-size="8.4">model</text>
<ellipse cx="645.9" cy="28.9" rx="3.9" ry="3.6" fill="#f00"/>
<text transform="translate(662.7,31.2) scale(1.1,1)" font-size="8.4">UVIT</text>
<polygon points="645.9,37.7 642.1,44.3 649.7,44.3" fill="#00f"/>
<text transform="translate(662.7,42.9) scale(1.1,1)" font-size="8.4">HST</text>
<ellipse cx="645.9" cy="52.5" rx="3.9" ry="3.6" fill="#ffa010"/>
<text transform="translate(662.7,54.5) scale(1.1,1)" font-size="8.4">no fit</text>
<line x1="641.4" y1="59.1" x2="650.4" y2="59.1" stroke="#bbb" stroke-width="0.9"/><line x1="641.4" y1="67.1" x2="650.4" y2="67.1" stroke="#bbb" stroke-width="0.9"/><line x1="645.9" y1="59.1" x2="645.9" y2="67.1" stroke="#000" stroke-width="1.3"/>
<text transform="translate(662.7,66.1) scale(1.1,1)" font-size="8.4">3σ</text>
<line x1="430.5" y1="63.0" x2="439.5" y2="63.0" stroke="#bbb" stroke-width="0.9"/><line x1="430.5" y1="66.2" x2="439.5" y2="66.2" stroke="#bbb" stroke-width="0.9"/><line x1="435.0" y1="63.0" x2="435.0" y2="66.2" stroke="#000" stroke-width="1.3"/>
<ellipse cx="435.0" cy="64.6" rx="3.8" ry="3.6" fill="#f00"/>
<line x1="435.0" y1="63.0" x2="435.0" y2="66.2" stroke="#000" stroke-width="1.3"/>
<line x1="437.4" y1="65.3" x2="446.4" y2="65.3" stroke="#bbb" stroke-width="0.9"/><line x1="437.4" y1="68.5" x2="446.4" y2="68.5" stroke="#bbb" stroke-width="0.9"/><line x1="441.9" y1="65.3" x2="441.9" y2="68.5" stroke="#000" stroke-width="1.3"/>
<ellipse cx="441.9" cy="66.9" rx="3.8" ry="3.6" fill="#f00"/>
<line x1="441.9" y1="65.3" x2="441.9" y2="68.5" stroke="#000" stroke-width="1.3"/>
<line x1="496.7" y1="88.5" x2="505.7" y2="88.5" stroke="#bbb" stroke-width="0.9"/><line x1="496.7" y1="92.3" x2="505.7" y2="92.3" stroke="#bbb" stroke-width="0.9"/><line x1="501.2" y1="88.5" x2="501.2" y2="92.3" stroke="#000" stroke-width="1.3"/>
<ellipse cx="501.2" cy="90.4" rx="3.8" ry="3.6" fill="#f00"/>
<line x1="501.2" y1="88.5" x2="501.2" y2="92.3" stroke="#000" stroke-width="1.3"/>
<line x1="506.6" y1="92.5" x2="515.6" y2="92.5" stroke="#bbb" stroke-width="0.9"/><line x1="506.6" y1="98.0" x2="515.6" y2="98.0" stroke="#bbb" stroke-width="0.9"/><line x1="511.1" y1="92.5" x2="511.1" y2="98.0" stroke="#000" stroke-width="1.3"/>
<ellipse cx="511.1" cy="95.2" rx="3.8" ry="3.6" fill="#f00"/>
<line x1="511.1" y1="92.5" x2="511.1" y2="98.0" stroke="#000" stroke-width="1.3"/>
<line x1="515.4" y1="100.5" x2="524.4" y2="100.5" stroke="#bbb" stroke-width="0.9"/><line x1="515.4" y1="104.3" x2="524.4" y2="104.3" stroke="#bbb" stroke-width="0.9"/><line x1="519.9" y1="100.5" x2="519.9" y2="104.3" stroke="#000" stroke-width="1.3"/>
<ellipse cx="519.9" cy="102.4" rx="3.8" ry="3.6" fill="#f00"/>
<line x1="519.9" y1="100.5" x2="519.9" y2="104.3" stroke="#000" stroke-width="1.3"/>
<line x1="495.0" y1="94.5" x2="504.0" y2="94.5" stroke="#bbb" stroke-width="0.9"/><line x1="495.0" y1="97.7" x2="504.0" y2="97.7" stroke="#bbb" stroke-width="0.9"/><line x1="499.5" y1="94.5" x2="499.5" y2="97.7" stroke="#000" stroke-width="1.3"/>
<ellipse cx="499.5" cy="96.1" rx="3.8" ry="3.6" fill="#ffa010"/>
<line x1="499.5" y1="94.5" x2="499.5" y2="97.7" stroke="#000" stroke-width="1.3"/>
<line x1="512.0" y1="92.1" x2="521.0" y2="92.1" stroke="#bbb" stroke-width="0.9"/><line x1="512.0" y1="98.5" x2="521.0" y2="98.5" stroke="#bbb" stroke-width="0.9"/><line x1="516.5" y1="92.1" x2="516.5" y2="98.5" stroke="#000" stroke-width="1.3"/>
<polygon points="516.5,92.0 512.7,98.6 520.3,98.6" fill="#00f"/>
<line x1="516.5" y1="92.3" x2="516.5" y2="98.3" stroke="#000" stroke-width="1.3"/>
<line x1="541.8" y1="104.7" x2="550.8" y2="104.7" stroke="#bbb" stroke-width="0.9"/><line x1="541.8" y1="111.5" x2="550.8" y2="111.5" stroke="#bbb" stroke-width="0.9"/><line x1="546.3" y1="104.7" x2="546.3" y2="111.5" stroke="#000" stroke-width="1.3"/>
<polygon points="546.3,104.8 542.5,111.4 550.1,111.4" fill="#00f"/>
<line x1="546.3" y1="105.1" x2="546.3" y2="111.1" stroke="#000" stroke-width="1.3"/>
<polygon points="582.4,115.9 578.6,122.5 586.2,122.5" fill="#00f"/>
<polygon points="624.4,138.6 620.6,145.2 628.2,145.2" fill="#00f"/>
<polygon points="669.4,162.8 665.6,169.4 673.2,169.4" fill="#00f"/>
<line x1="430.5" y1="218.8" x2="439.5" y2="218.8" stroke="#bbb" stroke-width="0.9"/><line x1="430.5" y1="221.2" x2="439.5" y2="221.2" stroke="#bbb" stroke-width="0.9"/><line x1="435.0" y1="218.8" x2="435.0" y2="221.2" stroke="#000" stroke-width="1.3"/>
<ellipse cx="435.0" cy="220.0" rx="3.8" ry="3.6" fill="#f00"/>
<line x1="435.0" y1="218.8" x2="435.0" y2="221.2" stroke="#000" stroke-width="1.3"/>
<line x1="437.5" y1="219.8" x2="446.5" y2="219.8" stroke="#bbb" stroke-width="0.9"/><line x1="437.5" y1="222.2" x2="446.5" y2="222.2" stroke="#bbb" stroke-width="0.9"/><line x1="442.0" y1="219.8" x2="442.0" y2="222.2" stroke="#000" stroke-width="1.3"/>
<ellipse cx="442.0" cy="221.0" rx="3.8" ry="3.6" fill="#f00"/>
<line x1="442.0" y1="219.8" x2="442.0" y2="222.2" stroke="#000" stroke-width="1.3"/>
<line x1="496.8" y1="219.0" x2="505.8" y2="219.0" stroke="#bbb" stroke-width="0.9"/><line x1="496.8" y1="222.2" x2="505.8" y2="222.2" stroke="#bbb" stroke-width="0.9"/><line x1="501.3" y1="219.0" x2="501.3" y2="222.2" stroke="#000" stroke-width="1.3"/>
<ellipse cx="501.3" cy="220.6" rx="3.8" ry="3.6" fill="#f00"/>
<line x1="501.3" y1="219.0" x2="501.3" y2="222.2" stroke="#000" stroke-width="1.3"/>
<line x1="507.1" y1="217.8" x2="516.1" y2="217.8" stroke="#bbb" stroke-width="0.9"/><line x1="507.1" y1="223.4" x2="516.1" y2="223.4" stroke="#bbb" stroke-width="0.9"/><line x1="511.6" y1="217.8" x2="511.6" y2="223.4" stroke="#000" stroke-width="1.3"/>
<ellipse cx="511.6" cy="220.6" rx="3.8" ry="3.6" fill="#f00"/>
<line x1="511.6" y1="217.8" x2="511.6" y2="223.4" stroke="#000" stroke-width="1.3"/>
<line x1="515.5" y1="230.5" x2="524.5" y2="230.5" stroke="#bbb" stroke-width="0.9"/><line x1="515.5" y1="234.7" x2="524.5" y2="234.7" stroke="#bbb" stroke-width="0.9"/><line x1="520.0" y1="230.5" x2="520.0" y2="234.7" stroke="#000" stroke-width="1.3"/>
<ellipse cx="520.0" cy="232.6" rx="3.8" ry="3.6" fill="#f00"/>
<line x1="520.0" y1="230.5" x2="520.0" y2="234.7" stroke="#000" stroke-width="1.3"/>
<line x1="511.9" y1="213.4" x2="520.9" y2="213.4" stroke="#bbb" stroke-width="0.9"/><line x1="511.9" y1="219.6" x2="520.9" y2="219.6" stroke="#bbb" stroke-width="0.9"/><line x1="516.4" y1="213.4" x2="516.4" y2="219.6" stroke="#000" stroke-width="1.3"/>
<polygon points="516.4,213.2 512.6,219.8 520.2,219.8" fill="#00f"/>
<line x1="516.4" y1="213.5" x2="516.4" y2="219.5" stroke="#000" stroke-width="1.3"/>
<line x1="541.9" y1="213.0" x2="550.9" y2="213.0" stroke="#bbb" stroke-width="0.9"/><line x1="541.9" y1="219.0" x2="550.9" y2="219.0" stroke="#bbb" stroke-width="0.9"/><line x1="546.4" y1="213.0" x2="546.4" y2="219.0" stroke="#000" stroke-width="1.3"/>
<polygon points="546.4,212.7 542.6,219.3 550.2,219.3" fill="#00f"/>
<line x1="546.4" y1="213.0" x2="546.4" y2="219.0" stroke="#000" stroke-width="1.3"/>
<polygon points="581.8,216.8 578.0,223.4 585.6,223.4" fill="#00f"/>
<polygon points="624.1,217.7 620.3,224.3 627.9,224.3" fill="#00f"/>
<polygon points="669.6,219.1 665.8,225.7 673.4,225.7" fill="#00f"/>
<line x1="412.5" y1="220.2" x2="694.4" y2="220.2" stroke="#000" stroke-width="2.3" stroke-linecap="round" stroke-dasharray="0 5.376"/>
<polyline fill="none" stroke="#777" stroke-width="1.8" stroke-linejoin="round" points="46.4,373.6 54.3,377.1 58.6,379.3 67.1,382.9 80.0,389.3 97.1,397.1 108.5,402.3 110.0,402.9 110.8,409.3 111.8,405.0 114.3,405.0 125.0,409.1 134.3,414.3 136.4,414.9 159.3,426.9 182.1,440.0 190.0,443.5 191.3,444.6 193.4,447.1 195.7,448.3 200.3,448.9 201.5,449.8 202.0,450.8 202.5,449.8 204.5,451.2 205.0,452.5 205.5,451.2 207.1,452.3 220.9,459.1 232.9,466.6 233.4,466.6 233.4,468.5 233.9,466.6 254.0,478.6 261.9,481.4 270.0,486.6 276.1,490.6 303.0,507.1 321.3,517.4 323.5,518.6"/>
<rect x="46.4" y="335.0" width="282.8" height="244.8" fill="none" stroke="#000" stroke-width="1.5"/>
<line x1="46.4" y1="518.5" x2="329.2" y2="518.5" stroke="#000" stroke-width="1.5"/>
<line x1="107.3" y1="332.5" x2="107.3" y2="337.5" stroke="#000" stroke-width="1.3"/>
<line x1="107.3" y1="516.0" x2="107.3" y2="521.0" stroke="#000" stroke-width="1.3"/>
<line x1="107.3" y1="577.3" x2="107.3" y2="582.3" stroke="#000" stroke-width="1.3"/>
<line x1="165.0" y1="332.5" x2="165.0" y2="337.5" stroke="#000" stroke-width="1.3"/>
<line x1="165.0" y1="516.0" x2="165.0" y2="521.0" stroke="#000" stroke-width="1.3"/>
<line x1="165.0" y1="577.3" x2="165.0" y2="582.3" stroke="#000" stroke-width="1.3"/>
<line x1="206.0" y1="332.5" x2="206.0" y2="337.5" stroke="#000" stroke-width="1.3"/>
<line x1="206.0" y1="516.0" x2="206.0" y2="521.0" stroke="#000" stroke-width="1.3"/>
<line x1="206.0" y1="577.3" x2="206.0" y2="582.3" stroke="#000" stroke-width="1.3"/>
<line x1="237.7" y1="332.5" x2="237.7" y2="337.5" stroke="#000" stroke-width="1.3"/>
<line x1="237.7" y1="516.0" x2="237.7" y2="521.0" stroke="#000" stroke-width="1.3"/>
<line x1="237.7" y1="577.3" x2="237.7" y2="582.3" stroke="#000" stroke-width="1.3"/>
<line x1="263.7" y1="332.5" x2="263.7" y2="337.5" stroke="#000" stroke-width="1.3"/>
<line x1="263.7" y1="516.0" x2="263.7" y2="521.0" stroke="#000" stroke-width="1.3"/>
<line x1="263.7" y1="577.3" x2="263.7" y2="582.3" stroke="#000" stroke-width="1.3"/>
<line x1="285.6" y1="332.5" x2="285.6" y2="337.5" stroke="#000" stroke-width="1.3"/>
<line x1="285.6" y1="516.0" x2="285.6" y2="521.0" stroke="#000" stroke-width="1.3"/>
<line x1="285.6" y1="577.3" x2="285.6" y2="582.3" stroke="#000" stroke-width="1.3"/>
<line x1="304.7" y1="332.5" x2="304.7" y2="337.5" stroke="#000" stroke-width="1.3"/>
<line x1="304.7" y1="516.0" x2="304.7" y2="521.0" stroke="#000" stroke-width="1.3"/>
<line x1="304.7" y1="577.3" x2="304.7" y2="582.3" stroke="#000" stroke-width="1.3"/>
<line x1="321.4" y1="332.5" x2="321.4" y2="337.5" stroke="#000" stroke-width="1.3"/>
<line x1="321.4" y1="516.0" x2="321.4" y2="521.0" stroke="#000" stroke-width="1.3"/>
<line x1="321.4" y1="577.3" x2="321.4" y2="582.3" stroke="#000" stroke-width="1.3"/>
<text x="93.9" y="592.0" font-size="9.2">2</text>
<text x="103.4" y="591.4" font-size="8.4" text-anchor="middle">×</text>
<text x="107.6" y="592.0" font-size="9.2">10</text>
<text x="117.6" y="587.2" font-size="6.3">3</text>
<text x="151.6" y="592.0" font-size="9.2">3</text>
<text x="161.1" y="591.4" font-size="8.4" text-anchor="middle">×</text>
<text x="165.3" y="592.0" font-size="9.2">10</text>
<text x="175.3" y="587.2" font-size="6.3">3</text>
<text x="192.6" y="592.0" font-size="9.2">4</text>
<text x="202.1" y="591.4" font-size="8.4" text-anchor="middle">×</text>
<text x="206.3" y="592.0" font-size="9.2">10</text>
<text x="216.3" y="587.2" font-size="6.3">3</text>
<text x="250.3" y="592.0" font-size="9.2">6</text>
<text x="259.8" y="591.4" font-size="8.4" text-anchor="middle">×</text>
<text x="264.0" y="592.0" font-size="9.2">10</text>
<text x="274.0" y="587.2" font-size="6.3">3</text>
<line x1="41.4" y1="335.0" x2="51.4" y2="335.0" stroke="#000" stroke-width="1.5"/>
<line x1="324.2" y1="335.0" x2="334.2" y2="335.0" stroke="#000" stroke-width="1.5"/>
<text x="29.7" y="339.7" font-size="9.5" text-anchor="end">10</text>
<text transform="translate(40.7,334.2) scale(1.1,1)" font-size="6.4" text-anchor="end">−12</text>
<line x1="43.4" y1="369.8" x2="49.4" y2="369.8" stroke="#000" stroke-width="1.1"/>
<line x1="326.2" y1="369.8" x2="332.2" y2="369.8" stroke="#000" stroke-width="1.1"/>
<line x1="43.4" y1="361.0" x2="49.4" y2="361.0" stroke="#000" stroke-width="1.1"/>
<line x1="326.2" y1="361.0" x2="332.2" y2="361.0" stroke="#000" stroke-width="1.1"/>
<line x1="43.4" y1="354.8" x2="49.4" y2="354.8" stroke="#000" stroke-width="1.1"/>
<line x1="326.2" y1="354.8" x2="332.2" y2="354.8" stroke="#000" stroke-width="1.1"/>
<line x1="43.4" y1="350.0" x2="49.4" y2="350.0" stroke="#000" stroke-width="1.1"/>
<line x1="326.2" y1="350.0" x2="332.2" y2="350.0" stroke="#000" stroke-width="1.1"/>
<line x1="43.4" y1="346.0" x2="49.4" y2="346.0" stroke="#000" stroke-width="1.1"/>
<line x1="326.2" y1="346.0" x2="332.2" y2="346.0" stroke="#000" stroke-width="1.1"/>
<line x1="43.4" y1="342.7" x2="49.4" y2="342.7" stroke="#000" stroke-width="1.1"/>
<line x1="326.2" y1="342.7" x2="332.2" y2="342.7" stroke="#000" stroke-width="1.1"/>
<line x1="43.4" y1="339.8" x2="49.4" y2="339.8" stroke="#000" stroke-width="1.1"/>
<line x1="326.2" y1="339.8" x2="332.2" y2="339.8" stroke="#000" stroke-width="1.1"/>
<line x1="43.4" y1="337.3" x2="49.4" y2="337.3" stroke="#000" stroke-width="1.1"/>
<line x1="326.2" y1="337.3" x2="332.2" y2="337.3" stroke="#000" stroke-width="1.1"/>
<line x1="41.4" y1="384.8" x2="51.4" y2="384.8" stroke="#000" stroke-width="1.5"/>
<line x1="324.2" y1="384.8" x2="334.2" y2="384.8" stroke="#000" stroke-width="1.5"/>
<text x="29.7" y="389.5" font-size="9.5" text-anchor="end">10</text>
<text transform="translate(40.7,384.0) scale(1.1,1)" font-size="6.4" text-anchor="end">−13</text>
<line x1="43.4" y1="419.6" x2="49.4" y2="419.6" stroke="#000" stroke-width="1.1"/>
<line x1="326.2" y1="419.6" x2="332.2" y2="419.6" stroke="#000" stroke-width="1.1"/>
<line x1="43.4" y1="410.8" x2="49.4" y2="410.8" stroke="#000" stroke-width="1.1"/>
<line x1="326.2" y1="410.8" x2="332.2" y2="410.8" stroke="#000" stroke-width="1.1"/>
<line x1="43.4" y1="404.6" x2="49.4" y2="404.6" stroke="#000" stroke-width="1.1"/>
<line x1="326.2" y1="404.6" x2="332.2" y2="404.6" stroke="#000" stroke-width="1.1"/>
<line x1="43.4" y1="399.8" x2="49.4" y2="399.8" stroke="#000" stroke-width="1.1"/>
<line x1="326.2" y1="399.8" x2="332.2" y2="399.8" stroke="#000" stroke-width="1.1"/>
<line x1="43.4" y1="395.8" x2="49.4" y2="395.8" stroke="#000" stroke-width="1.1"/>
<line x1="326.2" y1="395.8" x2="332.2" y2="395.8" stroke="#000" stroke-width="1.1"/>
<line x1="43.4" y1="392.5" x2="49.4" y2="392.5" stroke="#000" stroke-width="1.1"/>
<line x1="326.2" y1="392.5" x2="332.2" y2="392.5" stroke="#000" stroke-width="1.1"/>
<line x1="43.4" y1="389.6" x2="49.4" y2="389.6" stroke="#000" stroke-width="1.1"/>
<line x1="326.2" y1="389.6" x2="332.2" y2="389.6" stroke="#000" stroke-width="1.1"/>
<line x1="43.4" y1="387.1" x2="49.4" y2="387.1" stroke="#000" stroke-width="1.1"/>
<line x1="326.2" y1="387.1" x2="332.2" y2="387.1" stroke="#000" stroke-width="1.1"/>
<line x1="41.4" y1="434.6" x2="51.4" y2="434.6" stroke="#000" stroke-width="1.5"/>
<line x1="324.2" y1="434.6" x2="334.2" y2="434.6" stroke="#000" stroke-width="1.5"/>
<text x="29.7" y="439.3" font-size="9.5" text-anchor="end">10</text>
<text transform="translate(40.7,433.8) scale(1.1,1)" font-size="6.4" text-anchor="end">−14</text>
<line x1="43.4" y1="469.4" x2="49.4" y2="469.4" stroke="#000" stroke-width="1.1"/>
<line x1="326.2" y1="469.4" x2="332.2" y2="469.4" stroke="#000" stroke-width="1.1"/>
<line x1="43.4" y1="460.6" x2="49.4" y2="460.6" stroke="#000" stroke-width="1.1"/>
<line x1="326.2" y1="460.6" x2="332.2" y2="460.6" stroke="#000" stroke-width="1.1"/>
<line x1="43.4" y1="454.4" x2="49.4" y2="454.4" stroke="#000" stroke-width="1.1"/>
<line x1="326.2" y1="454.4" x2="332.2" y2="454.4" stroke="#000" stroke-width="1.1"/>
<line x1="43.4" y1="449.6" x2="49.4" y2="449.6" stroke="#000" stroke-width="1.1"/>
<line x1="326.2" y1="449.6" x2="332.2" y2="449.6" stroke="#000" stroke-width="1.1"/>
<line x1="43.4" y1="445.6" x2="49.4" y2="445.6" stroke="#000" stroke-width="1.1"/>
<line x1="326.2" y1="445.6" x2="332.2" y2="445.6" stroke="#000" stroke-width="1.1"/>
<line x1="43.4" y1="442.3" x2="49.4" y2="442.3" stroke="#000" stroke-width="1.1"/>
<line x1="326.2" y1="442.3" x2="332.2" y2="442.3" stroke="#000" stroke-width="1.1"/>
<line x1="43.4" y1="439.4" x2="49.4" y2="439.4" stroke="#000" stroke-width="1.1"/>
<line x1="326.2" y1="439.4" x2="332.2" y2="439.4" stroke="#000" stroke-width="1.1"/>
<line x1="43.4" y1="436.9" x2="49.4" y2="436.9" stroke="#000" stroke-width="1.1"/>
<line x1="326.2" y1="436.9" x2="332.2" y2="436.9" stroke="#000" stroke-width="1.1"/>
<line x1="41.4" y1="484.4" x2="51.4" y2="484.4" stroke="#000" stroke-width="1.5"/>
<line x1="324.2" y1="484.4" x2="334.2" y2="484.4" stroke="#000" stroke-width="1.5"/>
<text x="29.7" y="489.1" font-size="9.5" text-anchor="end">10</text>
<text transform="translate(40.7,483.6) scale(1.1,1)" font-size="6.4" text-anchor="end">−15</text>
<line x1="43.4" y1="510.4" x2="49.4" y2="510.4" stroke="#000" stroke-width="1.1"/>
<line x1="326.2" y1="510.4" x2="332.2" y2="510.4" stroke="#000" stroke-width="1.1"/>
<line x1="43.4" y1="504.2" x2="49.4" y2="504.2" stroke="#000" stroke-width="1.1"/>
<line x1="326.2" y1="504.2" x2="332.2" y2="504.2" stroke="#000" stroke-width="1.1"/>
<line x1="43.4" y1="499.4" x2="49.4" y2="499.4" stroke="#000" stroke-width="1.1"/>
<line x1="326.2" y1="499.4" x2="332.2" y2="499.4" stroke="#000" stroke-width="1.1"/>
<line x1="43.4" y1="495.4" x2="49.4" y2="495.4" stroke="#000" stroke-width="1.1"/>
<line x1="326.2" y1="495.4" x2="332.2" y2="495.4" stroke="#000" stroke-width="1.1"/>
<line x1="43.4" y1="492.1" x2="49.4" y2="492.1" stroke="#000" stroke-width="1.1"/>
<line x1="326.2" y1="492.1" x2="332.2" y2="492.1" stroke="#000" stroke-width="1.1"/>
<line x1="43.4" y1="489.2" x2="49.4" y2="489.2" stroke="#000" stroke-width="1.1"/>
<line x1="326.2" y1="489.2" x2="332.2" y2="489.2" stroke="#000" stroke-width="1.1"/>
<line x1="43.4" y1="486.7" x2="49.4" y2="486.7" stroke="#000" stroke-width="1.1"/>
<line x1="326.2" y1="486.7" x2="332.2" y2="486.7" stroke="#000" stroke-width="1.1"/>
<line x1="41.9" y1="518.5" x2="50.9" y2="518.5" stroke="#000" stroke-width="1.3"/>
<line x1="324.7" y1="518.5" x2="333.7" y2="518.5" stroke="#000" stroke-width="1.3"/>
<text transform="translate(40.4,521.6) scale(1.03,1)" font-size="9.3" text-anchor="end">0.5</text>
<line x1="41.9" y1="549.1" x2="50.9" y2="549.1" stroke="#000" stroke-width="1.3"/>
<line x1="324.7" y1="549.1" x2="333.7" y2="549.1" stroke="#000" stroke-width="1.3"/>
<text transform="translate(40.4,552.2) scale(1.03,1)" font-size="9.3" text-anchor="end">0.0</text>
<line x1="41.9" y1="579.8" x2="50.9" y2="579.8" stroke="#000" stroke-width="1.3"/>
<line x1="324.7" y1="579.8" x2="333.7" y2="579.8" stroke="#000" stroke-width="1.3"/>
<text transform="translate(40.4,582.9) scale(1.03,1)" font-size="9.3" text-anchor="end">−0.5</text>
<text transform="translate(13.8,426.8) rotate(-90) scale(1,1.1)" font-size="10.8" text-anchor="middle">F<tspan font-size="7.4" dy="2.5">λ</tspan><tspan dy="-2.5">(ergs/s/cm</tspan><tspan font-size="7.4" dy="-5.5" dx="0.6">2</tspan><tspan dy="5.5" dx="0.4">/Å)</tspan></text>
<text transform="translate(17.3,549.1) rotate(-90) scale(1,1.1)" font-size="10.6" text-anchor="middle">Residuals</text>
<text transform="translate(187.8,603.4) scale(1.1,1)" font-size="11" text-anchor="middle">λ(Å)</text>
<text transform="translate(165.6,363.4) scale(1.11,1)" font-size="11.5" text-anchor="middle">Star 4</text>
<text transform="translate(168.9,378.2) scale(1.11,1)" font-size="11.5" text-anchor="middle">Temperature = 39000 K</text>
<rect x="267.8" y="339.5" width="56.4" height="60.6" rx="2" fill="#fff" stroke="#f4f4f4" stroke-width="0.8"/>
<line x1="270.5" y1="345.3" x2="290.9" y2="345.3" stroke="#777" stroke-width="1.7"/>
<text transform="translate(297.5,348.5) scale(1.1,1)" font-size="8.4">model</text>
<ellipse cx="280.7" cy="357.8" rx="3.9" ry="3.6" fill="#f00"/>
<text transform="translate(297.5,360.1) scale(1.1,1)" font-size="8.4">UVIT</text>
<polygon points="280.7,366.6 276.9,373.2 284.5,373.2" fill="#00f"/>
<text transform="translate(297.5,371.8) scale(1.1,1)" font-size="8.4">HST</text>
<ellipse cx="280.7" cy="381.4" rx="3.9" ry="3.6" fill="#ffa010"/>
<text transform="translate(297.5,383.4) scale(1.1,1)" font-size="8.4">no fit</text>
<line x1="276.2" y1="388.0" x2="285.2" y2="388.0" stroke="#bbb" stroke-width="0.9"/><line x1="276.2" y1="396.0" x2="285.2" y2="396.0" stroke="#bbb" stroke-width="0.9"/><line x1="280.7" y1="388.0" x2="280.7" y2="396.0" stroke="#000" stroke-width="1.3"/>
<text transform="translate(297.5,395.0) scale(1.1,1)" font-size="8.4">3σ</text>
<line x1="65.5" y1="383.0" x2="74.5" y2="383.0" stroke="#bbb" stroke-width="0.9"/><line x1="65.5" y1="386.2" x2="74.5" y2="386.2" stroke="#bbb" stroke-width="0.9"/><line x1="70.0" y1="383.0" x2="70.0" y2="386.2" stroke="#000" stroke-width="1.3"/>
<ellipse cx="70.0" cy="384.6" rx="3.8" ry="3.6" fill="#f00"/>
<line x1="70.0" y1="383.0" x2="70.0" y2="386.2" stroke="#000" stroke-width="1.3"/>
<line x1="72.1" y1="385.1" x2="81.1" y2="385.1" stroke="#bbb" stroke-width="0.9"/><line x1="72.1" y1="388.3" x2="81.1" y2="388.3" stroke="#bbb" stroke-width="0.9"/><line x1="76.6" y1="385.1" x2="76.6" y2="388.3" stroke="#000" stroke-width="1.3"/>
<ellipse cx="76.6" cy="386.7" rx="3.8" ry="3.6" fill="#f00"/>
<line x1="76.6" y1="385.1" x2="76.6" y2="388.3" stroke="#000" stroke-width="1.3"/>
<line x1="131.6" y1="414.0" x2="140.6" y2="414.0" stroke="#bbb" stroke-width="0.9"/><line x1="131.6" y1="418.0" x2="140.6" y2="418.0" stroke="#bbb" stroke-width="0.9"/><line x1="136.1" y1="414.0" x2="136.1" y2="418.0" stroke="#000" stroke-width="1.3"/>
<ellipse cx="136.1" cy="416.0" rx="3.8" ry="3.6" fill="#f00"/>
<line x1="136.1" y1="414.0" x2="136.1" y2="418.0" stroke="#000" stroke-width="1.3"/>
<line x1="141.9" y1="419.3" x2="150.9" y2="419.3" stroke="#bbb" stroke-width="0.9"/><line x1="141.9" y1="425.3" x2="150.9" y2="425.3" stroke="#bbb" stroke-width="0.9"/><line x1="146.4" y1="419.3" x2="146.4" y2="425.3" stroke="#000" stroke-width="1.3"/>
<ellipse cx="146.4" cy="422.3" rx="3.8" ry="3.6" fill="#f00"/>
<line x1="146.4" y1="419.3" x2="146.4" y2="425.3" stroke="#000" stroke-width="1.3"/>
<line x1="129.9" y1="419.0" x2="138.9" y2="419.0" stroke="#bbb" stroke-width="0.9"/><line x1="129.9" y1="422.8" x2="138.9" y2="422.8" stroke="#bbb" stroke-width="0.9"/><line x1="134.4" y1="419.0" x2="134.4" y2="422.8" stroke="#000" stroke-width="1.3"/>
<ellipse cx="134.4" cy="420.9" rx="3.8" ry="3.6" fill="#ffa010"/>
<line x1="134.4" y1="419.0" x2="134.4" y2="422.8" stroke="#000" stroke-width="1.3"/>
<line x1="150.4" y1="428.0" x2="159.4" y2="428.0" stroke="#bbb" stroke-width="0.9"/><line x1="150.4" y1="431.8" x2="159.4" y2="431.8" stroke="#bbb" stroke-width="0.9"/><line x1="154.9" y1="428.0" x2="154.9" y2="431.8" stroke="#000" stroke-width="1.3"/>
<ellipse cx="154.9" cy="429.9" rx="3.8" ry="3.6" fill="#ffa010"/>
<line x1="154.9" y1="428.0" x2="154.9" y2="431.8" stroke="#000" stroke-width="1.3"/>
<line x1="146.8" y1="420.5" x2="155.8" y2="420.5" stroke="#bbb" stroke-width="0.9"/><line x1="146.8" y1="424.0" x2="155.8" y2="424.0" stroke="#bbb" stroke-width="0.9"/><line x1="151.3" y1="420.5" x2="151.3" y2="424.0" stroke="#000" stroke-width="1.3"/>
<polygon points="151.3,419.0 147.5,425.6 155.1,425.6" fill="#00f"/>
<line x1="151.3" y1="420.5" x2="151.3" y2="424.0" stroke="#000" stroke-width="1.3"/>
<polygon points="181.2,435.6 177.4,442.2 185.0,442.2" fill="#00f"/>
<polygon points="217.1,454.1 213.3,460.7 220.9,460.7" fill="#00f"/>
<polygon points="259.0,479.3 255.2,485.9 262.8,485.9" fill="#00f"/>
<polygon points="304.4,505.6 300.6,512.2 308.2,512.2" fill="#00f"/>
<line x1="65.4" y1="547.7" x2="74.4" y2="547.7" stroke="#bbb" stroke-width="0.9"/><line x1="65.4" y1="549.7" x2="74.4" y2="549.7" stroke="#bbb" stroke-width="0.9"/><line x1="69.9" y1="547.7" x2="69.9" y2="549.7" stroke="#000" stroke-width="1.3"/>
<ellipse cx="69.9" cy="548.7" rx="3.8" ry="3.6" fill="#f00"/>
<line x1="69.9" y1="547.7" x2="69.9" y2="549.7" stroke="#000" stroke-width="1.3"/>
<line x1="71.8" y1="547.7" x2="80.8" y2="547.7" stroke="#bbb" stroke-width="0.9"/><line x1="71.8" y1="549.7" x2="80.8" y2="549.7" stroke="#bbb" stroke-width="0.9"/><line x1="76.3" y1="547.7" x2="76.3" y2="549.7" stroke="#000" stroke-width="1.3"/>
<ellipse cx="76.3" cy="548.7" rx="3.8" ry="3.6" fill="#f00"/>
<line x1="76.3" y1="547.7" x2="76.3" y2="549.7" stroke="#000" stroke-width="1.3"/>
<line x1="131.2" y1="550.2" x2="140.2" y2="550.2" stroke="#bbb" stroke-width="0.9"/><line x1="131.2" y1="553.2" x2="140.2" y2="553.2" stroke="#bbb" stroke-width="0.9"/><line x1="135.7" y1="550.2" x2="135.7" y2="553.2" stroke="#000" stroke-width="1.3"/>
<ellipse cx="135.7" cy="551.7" rx="3.8" ry="3.6" fill="#f00"/>
<line x1="135.7" y1="550.2" x2="135.7" y2="553.2" stroke="#000" stroke-width="1.3"/>
<line x1="141.9" y1="552.5" x2="150.9" y2="552.5" stroke="#bbb" stroke-width="0.9"/><line x1="141.9" y1="556.5" x2="150.9" y2="556.5" stroke="#bbb" stroke-width="0.9"/><line x1="146.4" y1="552.5" x2="146.4" y2="556.5" stroke="#000" stroke-width="1.3"/>
<ellipse cx="146.4" cy="554.5" rx="3.8" ry="3.6" fill="#f00"/>
<line x1="146.4" y1="552.5" x2="146.4" y2="556.5" stroke="#000" stroke-width="1.3"/>
<polygon points="151.5,546.1 147.7,552.7 155.3,552.7" fill="#00f"/>
<polygon points="181.4,546.1 177.6,552.7 185.2,552.7" fill="#00f"/>
<polygon points="217.0,545.6 213.2,552.2 220.8,552.2" fill="#00f"/>
<polygon points="259.2,547.0 255.4,553.6 263.0,553.6" fill="#00f"/>
<polygon points="304.1,548.3 300.3,554.9 307.9,554.9" fill="#00f"/>
<line x1="47.4" y1="549.1" x2="329.2" y2="549.1" stroke="#000" stroke-width="2.3" stroke-linecap="round" stroke-dasharray="0 5.376"/>
<polyline fill="none" stroke="#777" stroke-width="1.8" stroke-linejoin="round" points="411.4,403.1 419.3,406.1 421.4,408.1 423.6,407.1 432.1,410.0 447.9,415.7 459.3,418.6 465.0,422.1 470.7,423.6 479.3,426.1 490.0,429.7 496.4,432.1 505.0,434.7 524.3,442.9 541.4,450.3 555.0,454.3 561.0,457.9 562.3,455.6 563.3,454.8 563.5,454.8 564.0,457.2 564.5,454.8 564.7,454.9 565.2,457.6 565.7,454.9 566.4,455.0 566.5,455.2 567.0,458.3 567.5,455.2 569.5,456.2 570.0,456.2 570.0,459.6 570.5,456.2 574.5,457.4 575.0,457.4 575.0,460.6 575.5,457.4 577.9,458.9 585.9,462.9 598.1,469.2 598.4,469.1 598.6,471.4 599.1,469.2 612.1,475.4 620.0,478.9 640.6,488.3 641.1,488.3 641.1,490.5 641.6,488.3 669.1,501.4 679.5,506.4 680.0,508.5 680.5,506.4 683.5,508.3 684.0,508.3 684.0,510.0 684.5,508.3 687.5,509.5 688.0,512.0 688.5,509.5 692.0,510.6 694.2,511.3"/>
<rect x="411.4" y="335.2" width="283.1" height="244.6" fill="none" stroke="#000" stroke-width="1.5"/>
<line x1="411.4" y1="518.5" x2="694.5" y2="518.5" stroke="#000" stroke-width="1.5"/>
<line x1="472.3" y1="332.7" x2="472.3" y2="337.7" stroke="#000" stroke-width="1.3"/>
<line x1="472.3" y1="516.0" x2="472.3" y2="521.0" stroke="#000" stroke-width="1.3"/>
<line x1="472.3" y1="577.3" x2="472.3" y2="582.3" stroke="#000" stroke-width="1.3"/>
<line x1="530.0" y1="332.7" x2="530.0" y2="337.7" stroke="#000" stroke-width="1.3"/>
<line x1="530.0" y1="516.0" x2="530.0" y2="521.0" stroke="#000" stroke-width="1.3"/>
<line x1="530.0" y1="577.3" x2="530.0" y2="582.3" stroke="#000" stroke-width="1.3"/>
<line x1="571.0" y1="332.7" x2="571.0" y2="337.7" stroke="#000" stroke-width="1.3"/>
<line x1="571.0" y1="516.0" x2="571.0" y2="521.0" stroke="#000" stroke-width="1.3"/>
<line x1="571.0" y1="577.3" x2="571.0" y2="582.3" stroke="#000" stroke-width="1.3"/>
<line x1="602.7" y1="332.7" x2="602.7" y2="337.7" stroke="#000" stroke-width="1.3"/>
<line x1="602.7" y1="516.0" x2="602.7" y2="521.0" stroke="#000" stroke-width="1.3"/>
<line x1="602.7" y1="577.3" x2="602.7" y2="582.3" stroke="#000" stroke-width="1.3"/>
<line x1="628.7" y1="332.7" x2="628.7" y2="337.7" stroke="#000" stroke-width="1.3"/>
<line x1="628.7" y1="516.0" x2="628.7" y2="521.0" stroke="#000" stroke-width="1.3"/>
<line x1="628.7" y1="577.3" x2="628.7" y2="582.3" stroke="#000" stroke-width="1.3"/>
<line x1="650.6" y1="332.7" x2="650.6" y2="337.7" stroke="#000" stroke-width="1.3"/>
<line x1="650.6" y1="516.0" x2="650.6" y2="521.0" stroke="#000" stroke-width="1.3"/>
<line x1="650.6" y1="577.3" x2="650.6" y2="582.3" stroke="#000" stroke-width="1.3"/>
<line x1="669.7" y1="332.7" x2="669.7" y2="337.7" stroke="#000" stroke-width="1.3"/>
<line x1="669.7" y1="516.0" x2="669.7" y2="521.0" stroke="#000" stroke-width="1.3"/>
<line x1="669.7" y1="577.3" x2="669.7" y2="582.3" stroke="#000" stroke-width="1.3"/>
<line x1="686.4" y1="332.7" x2="686.4" y2="337.7" stroke="#000" stroke-width="1.3"/>
<line x1="686.4" y1="516.0" x2="686.4" y2="521.0" stroke="#000" stroke-width="1.3"/>
<line x1="686.4" y1="577.3" x2="686.4" y2="582.3" stroke="#000" stroke-width="1.3"/>
<text x="458.9" y="592.0" font-size="9.2">2</text>
<text x="468.4" y="591.4" font-size="8.4" text-anchor="middle">×</text>
<text x="472.6" y="592.0" font-size="9.2">10</text>
<text x="482.6" y="587.2" font-size="6.3">3</text>
<text x="516.6" y="592.0" font-size="9.2">3</text>
<text x="526.1" y="591.4" font-size="8.4" text-anchor="middle">×</text>
<text x="530.3" y="592.0" font-size="9.2">10</text>
<text x="540.3" y="587.2" font-size="6.3">3</text>
<text x="557.6" y="592.0" font-size="9.2">4</text>
<text x="567.1" y="591.4" font-size="8.4" text-anchor="middle">×</text>
<text x="571.3" y="592.0" font-size="9.2">10</text>
<text x="581.3" y="587.2" font-size="6.3">3</text>
<text x="615.3" y="592.0" font-size="9.2">6</text>
<text x="624.8" y="591.4" font-size="8.4" text-anchor="middle">×</text>
<text x="629.0" y="592.0" font-size="9.2">10</text>
<text x="639.0" y="587.2" font-size="6.3">3</text>
<line x1="406.4" y1="335.2" x2="416.4" y2="335.2" stroke="#000" stroke-width="1.5"/>
<line x1="689.5" y1="335.2" x2="699.5" y2="335.2" stroke="#000" stroke-width="1.5"/>
<text x="394.7" y="339.9" font-size="9.5" text-anchor="end">10</text>
<text transform="translate(405.7,334.4) scale(1.1,1)" font-size="6.4" text-anchor="end">−12</text>
<line x1="408.4" y1="362.5" x2="414.4" y2="362.5" stroke="#000" stroke-width="1.1"/>
<line x1="691.5" y1="362.5" x2="697.5" y2="362.5" stroke="#000" stroke-width="1.1"/>
<line x1="408.4" y1="355.6" x2="414.4" y2="355.6" stroke="#000" stroke-width="1.1"/>
<line x1="691.5" y1="355.6" x2="697.5" y2="355.6" stroke="#000" stroke-width="1.1"/>
<line x1="408.4" y1="350.8" x2="414.4" y2="350.8" stroke="#000" stroke-width="1.1"/>
<line x1="691.5" y1="350.8" x2="697.5" y2="350.8" stroke="#000" stroke-width="1.1"/>
<line x1="408.4" y1="347.0" x2="414.4" y2="347.0" stroke="#000" stroke-width="1.1"/>
<line x1="691.5" y1="347.0" x2="697.5" y2="347.0" stroke="#000" stroke-width="1.1"/>
<line x1="408.4" y1="343.9" x2="414.4" y2="343.9" stroke="#000" stroke-width="1.1"/>
<line x1="691.5" y1="343.9" x2="697.5" y2="343.9" stroke="#000" stroke-width="1.1"/>
<line x1="408.4" y1="341.3" x2="414.4" y2="341.3" stroke="#000" stroke-width="1.1"/>
<line x1="691.5" y1="341.3" x2="697.5" y2="341.3" stroke="#000" stroke-width="1.1"/>
<line x1="408.4" y1="339.0" x2="414.4" y2="339.0" stroke="#000" stroke-width="1.1"/>
<line x1="691.5" y1="339.0" x2="697.5" y2="339.0" stroke="#000" stroke-width="1.1"/>
<line x1="408.4" y1="337.0" x2="414.4" y2="337.0" stroke="#000" stroke-width="1.1"/>
<line x1="691.5" y1="337.0" x2="697.5" y2="337.0" stroke="#000" stroke-width="1.1"/>
<line x1="406.4" y1="374.3" x2="416.4" y2="374.3" stroke="#000" stroke-width="1.5"/>
<line x1="689.5" y1="374.3" x2="699.5" y2="374.3" stroke="#000" stroke-width="1.5"/>
<text x="394.7" y="379.0" font-size="9.5" text-anchor="end">10</text>
<text transform="translate(405.7,373.5) scale(1.1,1)" font-size="6.4" text-anchor="end">−13</text>
<line x1="408.4" y1="401.6" x2="414.4" y2="401.6" stroke="#000" stroke-width="1.1"/>
<line x1="691.5" y1="401.6" x2="697.5" y2="401.6" stroke="#000" stroke-width="1.1"/>
<line x1="408.4" y1="394.7" x2="414.4" y2="394.7" stroke="#000" stroke-width="1.1"/>
<line x1="691.5" y1="394.7" x2="697.5" y2="394.7" stroke="#000" stroke-width="1.1"/>
<line x1="408.4" y1="389.9" x2="414.4" y2="389.9" stroke="#000" stroke-width="1.1"/>
<line x1="691.5" y1="389.9" x2="697.5" y2="389.9" stroke="#000" stroke-width="1.1"/>
<line x1="408.4" y1="386.1" x2="414.4" y2="386.1" stroke="#000" stroke-width="1.1"/>
<line x1="691.5" y1="386.1" x2="697.5" y2="386.1" stroke="#000" stroke-width="1.1"/>
<line x1="408.4" y1="383.0" x2="414.4" y2="383.0" stroke="#000" stroke-width="1.1"/>
<line x1="691.5" y1="383.0" x2="697.5" y2="383.0" stroke="#000" stroke-width="1.1"/>
<line x1="408.4" y1="380.4" x2="414.4" y2="380.4" stroke="#000" stroke-width="1.1"/>
<line x1="691.5" y1="380.4" x2="697.5" y2="380.4" stroke="#000" stroke-width="1.1"/>
<line x1="408.4" y1="378.1" x2="414.4" y2="378.1" stroke="#000" stroke-width="1.1"/>
<line x1="691.5" y1="378.1" x2="697.5" y2="378.1" stroke="#000" stroke-width="1.1"/>
<line x1="408.4" y1="376.1" x2="414.4" y2="376.1" stroke="#000" stroke-width="1.1"/>
<line x1="691.5" y1="376.1" x2="697.5" y2="376.1" stroke="#000" stroke-width="1.1"/>
<line x1="406.4" y1="413.4" x2="416.4" y2="413.4" stroke="#000" stroke-width="1.5"/>
<line x1="689.5" y1="413.4" x2="699.5" y2="413.4" stroke="#000" stroke-width="1.5"/>
<text x="394.7" y="418.1" font-size="9.5" text-anchor="end">10</text>
<text transform="translate(405.7,412.6) scale(1.1,1)" font-size="6.4" text-anchor="end">−14</text>
<line x1="408.4" y1="440.7" x2="414.4" y2="440.7" stroke="#000" stroke-width="1.1"/>
<line x1="691.5" y1="440.7" x2="697.5" y2="440.7" stroke="#000" stroke-width="1.1"/>
<line x1="408.4" y1="433.8" x2="414.4" y2="433.8" stroke="#000" stroke-width="1.1"/>
<line x1="691.5" y1="433.8" x2="697.5" y2="433.8" stroke="#000" stroke-width="1.1"/>
<line x1="408.4" y1="429.0" x2="414.4" y2="429.0" stroke="#000" stroke-width="1.1"/>
<line x1="691.5" y1="429.0" x2="697.5" y2="429.0" stroke="#000" stroke-width="1.1"/>
<line x1="408.4" y1="425.2" x2="414.4" y2="425.2" stroke="#000" stroke-width="1.1"/>
<line x1="691.5" y1="425.2" x2="697.5" y2="425.2" stroke="#000" stroke-width="1.1"/>
<line x1="408.4" y1="422.1" x2="414.4" y2="422.1" stroke="#000" stroke-width="1.1"/>
<line x1="691.5" y1="422.1" x2="697.5" y2="422.1" stroke="#000" stroke-width="1.1"/>
<line x1="408.4" y1="419.5" x2="414.4" y2="419.5" stroke="#000" stroke-width="1.1"/>
<line x1="691.5" y1="419.5" x2="697.5" y2="419.5" stroke="#000" stroke-width="1.1"/>
<line x1="408.4" y1="417.2" x2="414.4" y2="417.2" stroke="#000" stroke-width="1.1"/>
<line x1="691.5" y1="417.2" x2="697.5" y2="417.2" stroke="#000" stroke-width="1.1"/>
<line x1="408.4" y1="415.2" x2="414.4" y2="415.2" stroke="#000" stroke-width="1.1"/>
<line x1="691.5" y1="415.2" x2="697.5" y2="415.2" stroke="#000" stroke-width="1.1"/>
<line x1="406.4" y1="452.5" x2="416.4" y2="452.5" stroke="#000" stroke-width="1.5"/>
<line x1="689.5" y1="452.5" x2="699.5" y2="452.5" stroke="#000" stroke-width="1.5"/>
<text x="394.7" y="457.2" font-size="9.5" text-anchor="end">10</text>
<text transform="translate(405.7,451.7) scale(1.1,1)" font-size="6.4" text-anchor="end">−15</text>
<line x1="408.4" y1="479.8" x2="414.4" y2="479.8" stroke="#000" stroke-width="1.1"/>
<line x1="691.5" y1="479.8" x2="697.5" y2="479.8" stroke="#000" stroke-width="1.1"/>
<line x1="408.4" y1="472.9" x2="414.4" y2="472.9" stroke="#000" stroke-width="1.1"/>
<line x1="691.5" y1="472.9" x2="697.5" y2="472.9" stroke="#000" stroke-width="1.1"/>
<line x1="408.4" y1="468.1" x2="414.4" y2="468.1" stroke="#000" stroke-width="1.1"/>
<line x1="691.5" y1="468.1" x2="697.5" y2="468.1" stroke="#000" stroke-width="1.1"/>
<line x1="408.4" y1="464.3" x2="414.4" y2="464.3" stroke="#000" stroke-width="1.1"/>
<line x1="691.5" y1="464.3" x2="697.5" y2="464.3" stroke="#000" stroke-width="1.1"/>
<line x1="408.4" y1="461.2" x2="414.4" y2="461.2" stroke="#000" stroke-width="1.1"/>
<line x1="691.5" y1="461.2" x2="697.5" y2="461.2" stroke="#000" stroke-width="1.1"/>
<line x1="408.4" y1="458.6" x2="414.4" y2="458.6" stroke="#000" stroke-width="1.1"/>
<line x1="691.5" y1="458.6" x2="697.5" y2="458.6" stroke="#000" stroke-width="1.1"/>
<line x1="408.4" y1="456.3" x2="414.4" y2="456.3" stroke="#000" stroke-width="1.1"/>
<line x1="691.5" y1="456.3" x2="697.5" y2="456.3" stroke="#000" stroke-width="1.1"/>
<line x1="408.4" y1="454.3" x2="414.4" y2="454.3" stroke="#000" stroke-width="1.1"/>
<line x1="691.5" y1="454.3" x2="697.5" y2="454.3" stroke="#000" stroke-width="1.1"/>
<line x1="406.4" y1="491.6" x2="416.4" y2="491.6" stroke="#000" stroke-width="1.5"/>
<line x1="689.5" y1="491.6" x2="699.5" y2="491.6" stroke="#000" stroke-width="1.5"/>
<text x="394.7" y="496.3" font-size="9.5" text-anchor="end">10</text>
<text transform="translate(405.7,490.8) scale(1.1,1)" font-size="6.4" text-anchor="end">−16</text>
<line x1="408.4" y1="512.0" x2="414.4" y2="512.0" stroke="#000" stroke-width="1.1"/>
<line x1="691.5" y1="512.0" x2="697.5" y2="512.0" stroke="#000" stroke-width="1.1"/>
<line x1="408.4" y1="507.2" x2="414.4" y2="507.2" stroke="#000" stroke-width="1.1"/>
<line x1="691.5" y1="507.2" x2="697.5" y2="507.2" stroke="#000" stroke-width="1.1"/>
<line x1="408.4" y1="503.4" x2="414.4" y2="503.4" stroke="#000" stroke-width="1.1"/>
<line x1="691.5" y1="503.4" x2="697.5" y2="503.4" stroke="#000" stroke-width="1.1"/>
<line x1="408.4" y1="500.3" x2="414.4" y2="500.3" stroke="#000" stroke-width="1.1"/>
<line x1="691.5" y1="500.3" x2="697.5" y2="500.3" stroke="#000" stroke-width="1.1"/>
<line x1="408.4" y1="497.7" x2="414.4" y2="497.7" stroke="#000" stroke-width="1.1"/>
<line x1="691.5" y1="497.7" x2="697.5" y2="497.7" stroke="#000" stroke-width="1.1"/>
<line x1="408.4" y1="495.4" x2="414.4" y2="495.4" stroke="#000" stroke-width="1.1"/>
<line x1="691.5" y1="495.4" x2="697.5" y2="495.4" stroke="#000" stroke-width="1.1"/>
<line x1="408.4" y1="493.4" x2="414.4" y2="493.4" stroke="#000" stroke-width="1.1"/>
<line x1="691.5" y1="493.4" x2="697.5" y2="493.4" stroke="#000" stroke-width="1.1"/>
<line x1="406.9" y1="518.5" x2="415.9" y2="518.5" stroke="#000" stroke-width="1.3"/>
<line x1="690.0" y1="518.5" x2="699.0" y2="518.5" stroke="#000" stroke-width="1.3"/>
<text transform="translate(405.4,521.6) scale(1.03,1)" font-size="9.3" text-anchor="end">0.5</text>
<line x1="406.9" y1="549.1" x2="415.9" y2="549.1" stroke="#000" stroke-width="1.3"/>
<line x1="690.0" y1="549.1" x2="699.0" y2="549.1" stroke="#000" stroke-width="1.3"/>
<text transform="translate(405.4,552.2) scale(1.03,1)" font-size="9.3" text-anchor="end">0.0</text>
<line x1="406.9" y1="579.8" x2="415.9" y2="579.8" stroke="#000" stroke-width="1.3"/>
<line x1="690.0" y1="579.8" x2="699.0" y2="579.8" stroke="#000" stroke-width="1.3"/>
<text transform="translate(405.4,582.9) scale(1.03,1)" font-size="9.3" text-anchor="end">−0.5</text>
<text transform="translate(378.8,426.9) rotate(-90) scale(1,1.1)" font-size="10.8" text-anchor="middle">F<tspan font-size="7.4" dy="2.5">λ</tspan><tspan dy="-2.5">(ergs/s/cm</tspan><tspan font-size="7.4" dy="-5.5" dx="0.6">2</tspan><tspan dy="5.5" dx="0.4">/Å)</tspan></text>
<text transform="translate(382.3,549.1) rotate(-90) scale(1,1.1)" font-size="10.6" text-anchor="middle">Residuals</text>
<text transform="translate(553.0,603.4) scale(1.1,1)" font-size="11" text-anchor="middle">λ(Å)</text>
<text transform="translate(530.6,358.7) scale(1.11,1)" font-size="11.5" text-anchor="middle">Star 5</text>
<text transform="translate(534.6,370.7) scale(1.11,1)" font-size="11.5" text-anchor="middle">Temperature = 27000 K</text>
<rect x="633.1" y="339.7" width="56.4" height="60.6" rx="2" fill="#fff" stroke="#f4f4f4" stroke-width="0.8"/>
<line x1="635.8" y1="345.5" x2="656.2" y2="345.5" stroke="#777" stroke-width="1.7"/>
<text transform="translate(662.8,348.7) scale(1.1,1)" font-size="8.4">model</text>
<ellipse cx="646.0" cy="358.0" rx="3.9" ry="3.6" fill="#f00"/>
<text transform="translate(662.8,360.3) scale(1.1,1)" font-size="8.4">UVIT</text>
<polygon points="646.0,366.8 642.2,373.4 649.8,373.4" fill="#00f"/>
<text transform="translate(662.8,372.0) scale(1.1,1)" font-size="8.4">HST</text>
<ellipse cx="646.0" cy="381.6" rx="3.9" ry="3.6" fill="#ffa010"/>
<text transform="translate(662.8,383.6) scale(1.1,1)" font-size="8.4">no fit</text>
<line x1="641.5" y1="388.2" x2="650.5" y2="388.2" stroke="#bbb" stroke-width="0.9"/><line x1="641.5" y1="396.2" x2="650.5" y2="396.2" stroke="#bbb" stroke-width="0.9"/><line x1="646.0" y1="388.2" x2="646.0" y2="396.2" stroke="#000" stroke-width="1.3"/>
<text transform="translate(662.8,395.2) scale(1.1,1)" font-size="8.4">3σ</text>
<line x1="430.8" y1="410.8" x2="439.8" y2="410.8" stroke="#bbb" stroke-width="0.9"/><line x1="430.8" y1="413.0" x2="439.8" y2="413.0" stroke="#bbb" stroke-width="0.9"/><line x1="435.3" y1="410.8" x2="435.3" y2="413.0" stroke="#000" stroke-width="1.3"/>
<ellipse cx="435.3" cy="411.9" rx="3.8" ry="3.6" fill="#f00"/>
<line x1="435.3" y1="410.8" x2="435.3" y2="413.0" stroke="#000" stroke-width="1.3"/>
<line x1="437.4" y1="412.0" x2="446.4" y2="412.0" stroke="#bbb" stroke-width="0.9"/><line x1="437.4" y1="414.2" x2="446.4" y2="414.2" stroke="#bbb" stroke-width="0.9"/><line x1="441.9" y1="412.0" x2="441.9" y2="414.2" stroke="#000" stroke-width="1.3"/>
<ellipse cx="441.9" cy="413.1" rx="3.8" ry="3.6" fill="#f00"/>
<line x1="441.9" y1="412.0" x2="441.9" y2="414.2" stroke="#000" stroke-width="1.3"/>
<line x1="496.7" y1="433.0" x2="505.7" y2="433.0" stroke="#bbb" stroke-width="0.9"/><line x1="496.7" y1="437.5" x2="505.7" y2="437.5" stroke="#bbb" stroke-width="0.9"/><line x1="501.2" y1="433.0" x2="501.2" y2="437.5" stroke="#000" stroke-width="1.3"/>
<ellipse cx="501.2" cy="435.2" rx="3.8" ry="3.6" fill="#f00"/>
<line x1="501.2" y1="433.0" x2="501.2" y2="437.5" stroke="#000" stroke-width="1.3"/>
<line x1="507.0" y1="434.0" x2="516.0" y2="434.0" stroke="#bbb" stroke-width="0.9"/><line x1="507.0" y1="442.3" x2="516.0" y2="442.3" stroke="#bbb" stroke-width="0.9"/><line x1="511.5" y1="434.0" x2="511.5" y2="442.3" stroke="#000" stroke-width="1.3"/>
<ellipse cx="511.5" cy="437.4" rx="3.8" ry="3.6" fill="#f00"/>
<line x1="511.5" y1="434.4" x2="511.5" y2="440.4" stroke="#000" stroke-width="1.3"/>
<line x1="515.8" y1="438.0" x2="524.8" y2="438.0" stroke="#bbb" stroke-width="0.9"/><line x1="515.8" y1="444.6" x2="524.8" y2="444.6" stroke="#bbb" stroke-width="0.9"/><line x1="520.3" y1="438.0" x2="520.3" y2="444.6" stroke="#000" stroke-width="1.3"/>
<ellipse cx="520.3" cy="441.1" rx="3.8" ry="3.6" fill="#f00"/>
<line x1="520.3" y1="438.1" x2="520.3" y2="444.1" stroke="#000" stroke-width="1.3"/>
<line x1="495.0" y1="436.5" x2="504.0" y2="436.5" stroke="#bbb" stroke-width="0.9"/><line x1="495.0" y1="440.5" x2="504.0" y2="440.5" stroke="#bbb" stroke-width="0.9"/><line x1="499.5" y1="436.5" x2="499.5" y2="440.5" stroke="#000" stroke-width="1.3"/>
<ellipse cx="499.5" cy="438.5" rx="3.8" ry="3.6" fill="#ffa010"/>
<line x1="499.5" y1="436.5" x2="499.5" y2="440.5" stroke="#000" stroke-width="1.3"/>
<line x1="511.8" y1="437.5" x2="520.8" y2="437.5" stroke="#bbb" stroke-width="0.9"/><line x1="511.8" y1="443.0" x2="520.8" y2="443.0" stroke="#bbb" stroke-width="0.9"/><line x1="516.3" y1="437.5" x2="516.3" y2="443.0" stroke="#000" stroke-width="1.3"/>
<polygon points="516.3,437.0 512.5,443.6 520.1,443.6" fill="#00f"/>
<line x1="516.3" y1="437.5" x2="516.3" y2="443.0" stroke="#000" stroke-width="1.3"/>
<polygon points="546.2,448.1 542.4,454.7 550.0,454.7" fill="#00f"/>
<polygon points="582.4,460.1 578.6,466.7 586.2,466.7" fill="#00f"/>
<line x1="619.9" y1="477.3" x2="628.9" y2="477.3" stroke="#bbb" stroke-width="0.9"/><line x1="619.9" y1="487.0" x2="628.9" y2="487.0" stroke="#bbb" stroke-width="0.9"/><line x1="624.4" y1="477.3" x2="624.4" y2="487.0" stroke="#000" stroke-width="1.3"/>
<polygon points="624.4,478.7 620.6,485.3 628.2,485.3" fill="#00f"/>
<line x1="624.4" y1="479.0" x2="624.4" y2="485.0" stroke="#000" stroke-width="1.3"/>
<polygon points="669.4,497.6 665.6,504.2 673.2,504.2" fill="#00f"/>
<line x1="430.5" y1="548.0" x2="439.5" y2="548.0" stroke="#bbb" stroke-width="0.9"/><line x1="430.5" y1="550.0" x2="439.5" y2="550.0" stroke="#bbb" stroke-width="0.9"/><line x1="435.0" y1="548.0" x2="435.0" y2="550.0" stroke="#000" stroke-width="1.3"/>
<ellipse cx="435.0" cy="549.0" rx="3.8" ry="3.6" fill="#f00"/>
<line x1="435.0" y1="548.0" x2="435.0" y2="550.0" stroke="#000" stroke-width="1.3"/>
<line x1="437.1" y1="547.4" x2="446.1" y2="547.4" stroke="#bbb" stroke-width="0.9"/><line x1="437.1" y1="549.4" x2="446.1" y2="549.4" stroke="#bbb" stroke-width="0.9"/><line x1="441.6" y1="547.4" x2="441.6" y2="549.4" stroke="#000" stroke-width="1.3"/>
<ellipse cx="441.6" cy="548.4" rx="3.8" ry="3.6" fill="#f00"/>
<line x1="441.6" y1="547.4" x2="441.6" y2="549.4" stroke="#000" stroke-width="1.3"/>
<line x1="496.7" y1="551.1" x2="505.7" y2="551.1" stroke="#bbb" stroke-width="0.9"/><line x1="496.7" y1="556.7" x2="505.7" y2="556.7" stroke="#bbb" stroke-width="0.9"/><line x1="501.2" y1="551.1" x2="501.2" y2="556.7" stroke="#000" stroke-width="1.3"/>
<ellipse cx="501.2" cy="553.9" rx="3.8" ry="3.6" fill="#f00"/>
<line x1="501.2" y1="551.1" x2="501.2" y2="556.7" stroke="#000" stroke-width="1.3"/>
<line x1="507.2" y1="542.2" x2="516.2" y2="542.2" stroke="#bbb" stroke-width="0.9"/><line x1="507.2" y1="552.8" x2="516.2" y2="552.8" stroke="#bbb" stroke-width="0.9"/><line x1="511.7" y1="542.2" x2="511.7" y2="552.8" stroke="#000" stroke-width="1.3"/>
<ellipse cx="511.7" cy="547.7" rx="3.8" ry="3.6" fill="#f00"/>
<line x1="511.7" y1="544.7" x2="511.7" y2="550.7" stroke="#000" stroke-width="1.3"/>
<line x1="515.9" y1="546.2" x2="524.9" y2="546.2" stroke="#bbb" stroke-width="0.9"/><line x1="515.9" y1="553.8" x2="524.9" y2="553.8" stroke="#bbb" stroke-width="0.9"/><line x1="520.4" y1="546.2" x2="520.4" y2="553.8" stroke="#000" stroke-width="1.3"/>
<ellipse cx="520.4" cy="549.8" rx="3.8" ry="3.6" fill="#f00"/>
<line x1="520.4" y1="546.8" x2="520.4" y2="552.8" stroke="#000" stroke-width="1.3"/>
<polygon points="516.4,547.8 512.6,554.4 520.2,554.4" fill="#00f"/>
<polygon points="546.4,545.4 542.6,552.0 550.2,552.0" fill="#00f"/>
<polygon points="581.8,547.3 578.0,553.9 585.6,553.9" fill="#00f"/>
<line x1="619.6" y1="545.5" x2="628.6" y2="545.5" stroke="#bbb" stroke-width="0.9"/><line x1="619.6" y1="556.3" x2="628.6" y2="556.3" stroke="#bbb" stroke-width="0.9"/><line x1="624.1" y1="545.5" x2="624.1" y2="556.3" stroke="#000" stroke-width="1.3"/>
<polygon points="624.1,548.4 620.3,555.0 627.9,555.0" fill="#00f"/>
<line x1="624.1" y1="548.7" x2="624.1" y2="554.7" stroke="#000" stroke-width="1.3"/>
<polygon points="669.6,546.8 665.8,553.4 673.4,553.4" fill="#00f"/>
<line x1="412.4" y1="549.1" x2="694.5" y2="549.1" stroke="#000" stroke-width="2.3" stroke-linecap="round" stroke-dasharray="0 5.376"/>
</svg></body></html>
